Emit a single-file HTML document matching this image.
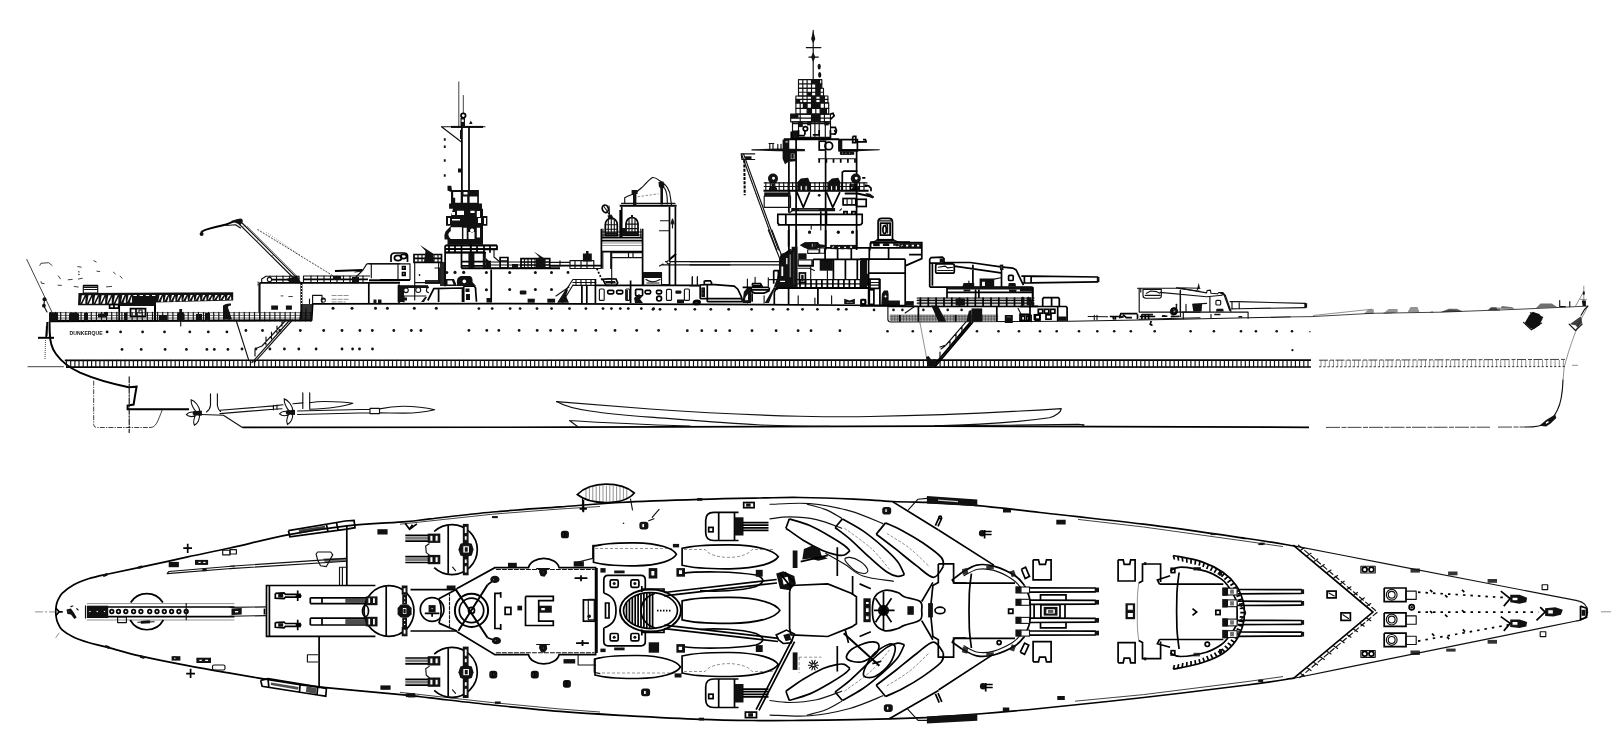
<!DOCTYPE html>
<html><head><meta charset="utf-8"><title>Dunkerque</title>
<style>
html,body{margin:0;padding:0;background:#fff;}
body{width:1624px;height:753px;overflow:hidden;font-family:"Liberation Sans",sans-serif;}
svg{display:block;position:absolute;left:0;top:0}
.l{fill:none;stroke:#111;stroke-width:1.15;stroke-linecap:round;stroke-linejoin:round}
.t{fill:none;stroke:#111;stroke-width:.8}
.h{fill:none;stroke:#222;stroke-width:.5}
.b{fill:none;stroke:#000;stroke-width:1.7}
.B{fill:none;stroke:#000;stroke-width:2}
.f{fill:#111;stroke:none}
.w{fill:#fff;stroke:#111;stroke-width:1.1}
.d{fill:none;stroke:#222;stroke-width:.7;stroke-dasharray:3 2}
</style></head><body>
<svg width="1624" height="753" viewBox="0 0 1624 753">
<rect width="1624" height="753" fill="#fff"/>
<g id="hull">
<path class="B" d="M49.5 321.5 L49.7 332 C49.9 342 52 349 56 354 C61 361 70 368 80 372.7 C90 377 110 383.5 128.6 387.2 L136.6 386.7 L134.8 397 L133.6 404.6 L127.6 405.6 L127.6 409.2 L189 409.2"/>
<path class="b" stroke-width="2" d="M49.5 321.5 L311.7 320 L312.7 303.8 L500 303.6 L700 304.3 L887.9 305.5"/>
<path class="l" d="M887.9 305.5 L887.9 319.5 Q888 321.9 891 321.9 L1070 321.3 L1180 319.3 L1290 316.9"/>
<path class="t" d="M1290 316.9 L1312 316.6 L1372 313.3 L1440 312.2 L1520 309.2 L1587.9 306.1" stroke="#444"/>
<path class="h" d="M1313 315.5 L1372 309.2" stroke="#555"/>
<path class="h" d="M1587.9 306.1 C1584 314 1580 321 1577.7 326.4 C1573 338 1569 350 1566.4 359.2 L1564.2 367.1 L1563 380" stroke="#777"/>
<path class="l" d="M1563 380 C1562.5 395 1561 403 1557.4 410 C1554 417 1551 420.5 1548.4 422.4 C1542 426 1534 427 1525.8 427"/>
<path class="b" d="M242.4 427.4 L577 427.2 L935 426.2 L1309 427.3"/>
<path class="t" d="M1326 427.4 L1490 427.2 M1498 427.1 L1526 427" stroke="#333" stroke-dasharray="14 1.5 5 1"/>
<path class="t" d="M27.6 366.7 L63.8 366.7"/>
<path class="h" d="M1572 365.3 L1578 365.3"/>
<path d="M64.8 360.3 L1311 360.1" class="b" stroke-width="1.7"/>
<path d="M66 367.2 L1311 367" class="b" stroke-width="1.9"/>
<path class="l" stroke-width="1.5" d="M66.5 360.4V367M70.7 360.4V367M74.9 360.4V367M79.0 360.4V367M83.2 360.4V367M87.4 360.4V367M91.6 360.4V367M95.8 360.4V367M99.9 360.4V367M104.1 360.4V367M108.3 360.4V367M112.5 360.4V367M116.7 360.4V367M120.8 360.4V367M125.0 360.4V367M129.2 360.4V367M133.4 360.4V367M137.6 360.4V367M141.7 360.4V367M145.9 360.4V367M150.1 360.4V367M154.3 360.4V367M158.5 360.4V367M162.6 360.4V367M166.8 360.4V367M171.0 360.4V367M175.2 360.4V367M179.4 360.4V367M183.5 360.4V367M187.7 360.4V367M191.9 360.4V367M196.1 360.4V367M200.3 360.4V367M204.4 360.4V367M208.6 360.4V367M212.8 360.4V367M217.0 360.4V367M221.2 360.4V367M225.3 360.4V367M229.5 360.4V367M233.7 360.4V367M237.9 360.4V367M242.1 360.4V367M246.2 360.4V367M250.4 360.4V367M254.6 360.4V367M258.8 360.4V367M263.0 360.4V367M267.1 360.4V367M271.3 360.4V367M275.5 360.4V367M279.7 360.4V367M283.9 360.4V367M288.0 360.4V367M292.2 360.4V367M296.4 360.4V367M300.6 360.4V367M304.8 360.4V367M308.9 360.4V367M313.1 360.4V367M317.3 360.4V367M321.5 360.4V367M325.7 360.4V367M329.8 360.4V367M334.0 360.4V367M338.2 360.4V367M342.4 360.4V367M346.6 360.4V367M350.7 360.4V367M354.9 360.4V367M359.1 360.4V367M363.3 360.4V367M367.5 360.4V367M371.6 360.4V367M375.8 360.4V367M380.0 360.4V367M384.2 360.4V367M388.4 360.4V367M392.5 360.4V367M396.7 360.4V367M400.9 360.4V367M405.1 360.4V367M409.3 360.4V367M413.4 360.4V367M417.6 360.4V367M421.8 360.4V367M426.0 360.4V367M430.2 360.4V367M434.3 360.4V367M438.5 360.4V367M442.7 360.4V367M446.9 360.4V367M451.1 360.4V367M455.2 360.4V367M459.4 360.4V367M463.6 360.4V367M467.8 360.4V367M472.0 360.4V367M476.1 360.4V367M480.3 360.4V367M484.5 360.4V367M488.7 360.4V367M492.9 360.4V367M497.0 360.4V367M501.2 360.4V367M505.4 360.4V367M509.6 360.4V367M513.8 360.4V367M517.9 360.4V367M522.1 360.4V367M526.3 360.4V367M530.5 360.4V367M534.7 360.4V367M538.8 360.4V367M543.0 360.4V367M547.2 360.4V367M551.4 360.4V367M555.6 360.4V367M559.7 360.4V367M563.9 360.4V367M568.1 360.4V367M572.3 360.4V367M576.5 360.4V367M580.6 360.4V367M584.8 360.4V367M589.0 360.4V367M593.2 360.4V367M597.4 360.4V367M601.5 360.4V367M605.7 360.4V367M609.9 360.4V367M614.1 360.4V367M618.3 360.4V367M622.4 360.4V367M626.6 360.4V367M630.8 360.4V367M635.0 360.4V367M639.2 360.4V367M643.3 360.4V367M647.5 360.4V367M651.7 360.4V367M655.9 360.4V367M660.1 360.4V367M664.2 360.4V367M668.4 360.4V367M672.6 360.4V367M676.8 360.4V367M681.0 360.4V367M685.1 360.4V367M689.3 360.4V367M693.5 360.4V367M697.7 360.4V367M701.9 360.4V367M706.0 360.4V367M710.2 360.4V367M714.4 360.4V367M718.6 360.4V367M722.8 360.4V367M726.9 360.4V367M731.1 360.4V367M735.3 360.4V367M739.5 360.4V367M743.7 360.4V367M747.8 360.4V367M752.0 360.4V367M756.2 360.4V367M760.4 360.4V367M764.6 360.4V367M768.7 360.4V367M772.9 360.4V367M777.1 360.4V367M781.3 360.4V367M785.5 360.4V367M789.6 360.4V367M793.8 360.4V367M798.0 360.4V367M802.2 360.4V367M806.4 360.4V367M810.5 360.4V367M814.7 360.4V367M818.9 360.4V367M823.1 360.4V367M827.3 360.4V367M831.4 360.4V367M835.6 360.4V367M839.8 360.4V367M844.0 360.4V367M848.2 360.4V367M852.3 360.4V367M856.5 360.4V367M860.7 360.4V367M864.9 360.4V367M869.1 360.4V367M873.2 360.4V367M877.4 360.4V367M881.6 360.4V367M885.8 360.4V367M890.0 360.4V367M894.1 360.4V367M898.3 360.4V367M902.5 360.4V367M906.7 360.4V367M910.9 360.4V367M915.0 360.4V367M919.2 360.4V367M923.4 360.4V367M927.6 360.4V367M931.8 360.4V367M935.9 360.4V367M940.1 360.4V367M944.3 360.4V367M948.5 360.4V367M952.7 360.4V367M956.8 360.4V367M961.0 360.4V367M965.2 360.4V367M969.4 360.4V367M973.6 360.4V367M977.7 360.4V367M981.9 360.4V367M986.1 360.4V367M990.3 360.4V367M994.5 360.4V367M998.6 360.4V367M1002.8 360.4V367M1007.0 360.4V367M1011.2 360.4V367M1015.4 360.4V367M1019.5 360.4V367M1023.7 360.4V367M1027.9 360.4V367M1032.1 360.4V367M1036.3 360.4V367M1040.4 360.4V367M1044.6 360.4V367M1048.8 360.4V367M1053.0 360.4V367M1057.2 360.4V367M1061.3 360.4V367M1065.5 360.4V367M1069.7 360.4V367M1073.9 360.4V367M1078.1 360.4V367M1082.2 360.4V367M1086.4 360.4V367M1090.6 360.4V367M1094.8 360.4V367M1099.0 360.4V367M1103.1 360.4V367M1107.3 360.4V367M1111.5 360.4V367M1115.7 360.4V367M1119.9 360.4V367M1124.0 360.4V367M1128.2 360.4V367M1132.4 360.4V367M1136.6 360.4V367M1140.8 360.4V367M1144.9 360.4V367M1149.1 360.4V367M1153.3 360.4V367M1157.5 360.4V367M1161.7 360.4V367M1165.8 360.4V367M1170.0 360.4V367M1174.2 360.4V367M1178.4 360.4V367M1182.6 360.4V367M1186.7 360.4V367M1190.9 360.4V367M1195.1 360.4V367M1199.3 360.4V367M1203.5 360.4V367M1207.6 360.4V367M1211.8 360.4V367M1216.0 360.4V367M1220.2 360.4V367M1224.4 360.4V367M1228.5 360.4V367M1232.7 360.4V367M1236.9 360.4V367M1241.1 360.4V367M1245.3 360.4V367M1249.4 360.4V367M1253.6 360.4V367M1257.8 360.4V367M1262.0 360.4V367M1266.2 360.4V367M1270.3 360.4V367M1274.5 360.4V367M1278.7 360.4V367M1282.9 360.4V367M1287.1 360.4V367M1291.2 360.4V367M1295.4 360.4V367M1299.6 360.4V367M1303.8 360.4V367M1308.0 360.4V367"/>
<path d="M1319 360.2 L1566.4 359.4" class="t" stroke="#555" stroke-dasharray="9 2 4 1.5"/>
<path d="M1319 366.8 L1565 366.6" class="t" stroke="#444" stroke-dasharray="2.2 2"/>
<path class="h" stroke="#555" stroke-width=".8" d="M1321.0 360V367M1325.2 360V367M1329.4 360V367M1333.5 360V367M1337.7 360V367M1341.9 360V367M1346.1 360V367M1350.3 360V367M1354.4 360V367M1358.6 360V367M1362.8 360V367M1367.0 360V367M1371.2 360V367M1375.3 360V367M1379.5 360V367M1383.7 360V367M1387.9 360V367M1392.1 360V367M1396.2 360V367M1400.4 360V367M1404.6 360V367M1408.8 360V367M1413.0 360V367M1417.1 360V367M1421.3 360V367M1425.5 360V367M1429.7 360V367M1433.9 360V367M1438.0 360V367M1442.2 360V367M1446.4 360V367M1450.6 360V367M1454.8 360V367M1458.9 360V367M1463.1 360V367M1467.3 360V367M1471.5 360V367M1475.7 360V367M1479.8 360V367M1484.0 360V367M1488.2 360V367M1492.4 360V367M1496.6 360V367M1500.7 360V367M1504.9 360V367M1509.1 360V367M1513.3 360V367M1517.5 360V367M1521.6 360V367M1525.8 360V367M1530.0 360V367M1534.2 360V367M1538.4 360V367M1542.5 360V367M1546.7 360V367M1550.9 360V367M1555.1 360V367M1559.3 360V367M1563.4 360V367"/>
<g class="f">
<circle cx="107.1" cy="331.9" r="1.4"/><circle cx="120.6" cy="331.9" r="1.4"/><circle cx="142.6" cy="331.9" r="1.4"/><circle cx="164.5" cy="331.9" r="1.4"/><circle cx="189.8" cy="331.9" r="1.4"/><circle cx="208.3" cy="331.9" r="1.4"/><circle cx="226.9" cy="331.9" r="1.4"/>
<circle cx="122.0" cy="349.4" r="1.4"/><circle cx="141.2" cy="349.4" r="1.4"/><circle cx="165.1" cy="349.4" r="1.4"/><circle cx="186.4" cy="349.4" r="1.4"/><circle cx="206.9" cy="349.4" r="1.4"/><circle cx="214.3" cy="349.4" r="1.4"/><circle cx="227.9" cy="349.4" r="1.4"/>
<circle cx="333.0" cy="308.3" r="1.5"/><circle cx="352.0" cy="308.3" r="1.5"/><circle cx="375.5" cy="308.3" r="1.5"/><circle cx="387.4" cy="308.3" r="1.5"/><circle cx="414.3" cy="308.3" r="1.5"/><circle cx="436.3" cy="308.3" r="1.5"/>
<circle cx="245.9" cy="330.5" r="1.4"/><circle cx="262.5" cy="330.5" r="1.4"/><circle cx="279.8" cy="330.5" r="1.4"/><circle cx="300.3" cy="330.5" r="1.4"/><circle cx="323.7" cy="330.5" r="1.4"/><circle cx="342.0" cy="330.5" r="1.4"/><circle cx="359.9" cy="330.5" r="1.4"/><circle cx="372.3" cy="330.5" r="1.4"/><circle cx="393.8" cy="330.5" r="1.4"/><circle cx="411.3" cy="330.5" r="1.4"/><circle cx="420.9" cy="330.5" r="1.4"/>
<circle cx="242.0" cy="349.0" r="1.4"/><circle cx="255.9" cy="349.0" r="1.4"/><circle cx="269.9" cy="349.0" r="1.4"/><circle cx="284.4" cy="349.0" r="1.4"/><circle cx="298.8" cy="349.0" r="1.4"/><circle cx="316.1" cy="349.0" r="1.4"/><circle cx="342.0" cy="349.0" r="1.4"/><circle cx="352.6" cy="349.0" r="1.4"/><circle cx="359.5" cy="349.0" r="1.4"/><circle cx="372.5" cy="349.0" r="1.4"/>
<circle cx="478.9" cy="308.6" r="1.4"/><circle cx="492.2" cy="308.6" r="1.4"/><circle cx="510.1" cy="308.6" r="1.4"/><circle cx="520.1" cy="308.6" r="1.4"/><circle cx="537.0" cy="308.6" r="1.4"/><circle cx="551.6" cy="308.6" r="1.4"/><circle cx="569.5" cy="308.6" r="1.4"/><circle cx="585.9" cy="308.6" r="1.4"/><circle cx="603.0" cy="308.6" r="1.4"/><circle cx="611.4" cy="308.6" r="1.4"/><circle cx="620.3" cy="308.6" r="1.4"/><circle cx="628.3" cy="308.6" r="1.4"/><circle cx="641.3" cy="308.6" r="1.4"/><circle cx="653.6" cy="308.6" r="1.4"/>
<circle cx="468.9" cy="330.4" r="1.4"/><circle cx="486.8" cy="330.4" r="1.4"/><circle cx="498.8" cy="330.4" r="1.4"/><circle cx="519.1" cy="330.4" r="1.4"/><circle cx="537.2" cy="330.4" r="1.4"/><circle cx="550.6" cy="330.4" r="1.4"/><circle cx="562.6" cy="330.4" r="1.4"/><circle cx="575.5" cy="330.4" r="1.4"/><circle cx="595.8" cy="330.4" r="1.4"/><circle cx="615.0" cy="330.4" r="1.4"/><circle cx="636.7" cy="330.4" r="1.4"/><circle cx="658.6" cy="330.4" r="1.4"/>
<circle cx="653.0" cy="309.3" r="1.4"/><circle cx="660.0" cy="309.3" r="1.4"/><circle cx="675.5" cy="309.3" r="1.4"/><circle cx="694.8" cy="309.3" r="1.4"/><circle cx="710.8" cy="309.3" r="1.4"/><circle cx="728.7" cy="309.3" r="1.4"/><circle cx="751.6" cy="309.3" r="1.4"/><circle cx="773.0" cy="309.3" r="1.4"/><circle cx="787.9" cy="309.3" r="1.4"/><circle cx="802.5" cy="309.3" r="1.4"/><circle cx="817.4" cy="309.3" r="1.4"/><circle cx="838.3" cy="309.3" r="1.4"/><circle cx="846.3" cy="309.3" r="1.4"/>
<circle cx="687.3" cy="330.7" r="1.4"/><circle cx="701.8" cy="330.7" r="1.4"/><circle cx="715.8" cy="330.7" r="1.4"/><circle cx="729.7" cy="330.7" r="1.4"/><circle cx="752.0" cy="330.7" r="1.4"/><circle cx="776.1" cy="330.7" r="1.4"/><circle cx="798.1" cy="330.7" r="1.4"/><circle cx="811.0" cy="330.7" r="1.4"/><circle cx="839.9" cy="330.7" r="1.4"/>
<circle cx="874.0" cy="309.9" r="1.3"/><circle cx="893.5" cy="309.9" r="1.3"/><circle cx="902.4" cy="309.9" r="1.3"/><circle cx="923.4" cy="309.9" r="1.3"/><circle cx="947.7" cy="309.9" r="1.3"/><circle cx="961.6" cy="309.9" r="1.3"/>
<circle cx="887.5" cy="331.3" r="1.3"/><circle cx="912.8" cy="331.3" r="1.3"/><circle cx="930.7" cy="331.3" r="1.3"/><circle cx="977.0" cy="331.3" r="1.3"/><circle cx="998.5" cy="331.3" r="1.3"/><circle cx="1019.0" cy="331.3" r="1.3"/><circle cx="1040.0" cy="331.3" r="1.3"/><circle cx="1056.7" cy="331.3" r="1.3"/><circle cx="1079.0" cy="331.3" r="1.3"/><circle cx="1097.3" cy="331.3" r="1.3"/><circle cx="1114.2" cy="331.3" r="1.3"/><circle cx="1130.8" cy="331.3" r="1.3"/><circle cx="1154.7" cy="331.3" r="1.3"/><circle cx="1190.6" cy="331.3" r="1.3"/><circle cx="1213.9" cy="331.3" r="1.3"/><circle cx="1241.0" cy="331.3" r="1.3"/><circle cx="1255.9" cy="331.3" r="1.3"/><circle cx="1276.7" cy="331.3" r="1.3"/><circle cx="1292.0" cy="331.3" r="1.3"/>
<circle cx="1309.9" cy="331.8" r="0.7"/>
<circle cx="1292.4" cy="350.2" r="1.1"/>
</g>
<path class="t" stroke-dasharray="5 1.2 1.2 1.2" d="M93.7 380.7 V424.5 Q93.7 427.5 97 427.5 H150"/>
<path class="t" d="M150 427.5 C156 427.5 157.5 422 162.5 409.2"/>
<path class="l" stroke-dasharray="6 1.5 1.5 1.5" d="M129.2 376.7 V432.5"/>
<path class="l" d="M556.6 401.6 L650 409 C700 412.5 749.6 415.1 800 416.2 C830 416.9 850 417 870 416.5 C930 415.5 1000 412.5 1061.3 408.6 C1061 412 1056 416 1049.3 417.8 C1020 422 970 425 935.7 425.8"/>
<path class="l" d="M556.6 401.6 C565 406.5 575 409 590 411 C610 414 635 416 650 417.1 C700 421 730 423.5 757.6 424.8 C780 425.8 800 426.3 830 426.4"/>
<path class="l" d="M569.5 420.5 L577.5 426.5 M569.5 420.5 C600 422.5 640 424.5 690 426"/>
<path class="l" d="M935 425.6 L1010 425.2 L1078 424.4 L1084 424.8 L1082 426.6"/>
<path class="l" d="M210.5 393.8 V405.5 Q210 409.5 206.5 412 M217.4 393.8 V405.5 Q217.8 409 220.5 411.5 M302.8 392.9 V408.4 M309.7 392.9 V408.4"/>
<path class="l" d="M201 414.5 L223.4 415.3 L242.4 427.4"/>
<path class="l" d="M220 410.2 L273.4 405.9 M220 413.6 L273.4 409.3 M273.4 405.4 V409.8 M277 405 V409.5"/>
<path class="l" d="M273.4 405.9 L283 404.8 M273.4 409.3 L282 408.8 M309.7 402.8 C318 401.4 322 401.4 325.2 401.5 C336 401.6 346 402.2 352.8 403.3 C345 406 330 408.6 309.7 409.3 M293 403.8 L302.8 402.9"/>
<path class="l" d="M297.6 411 L370 409.3 M297.6 414.5 L370 412.8 M370 408.4 V413.6 H379.5 V408.4 Z"/>
<path class="l" d="M379.5 408.9 C388 407 396 406.2 402.8 406.2 C415 406.3 427 407.8 434.7 409.7 C426 411.8 414 413.2 402.8 413.1 C394 413.1 386 412.9 379.5 412.9"/>
<g transform="translate(195.9 413.2)"><path class="w" stroke-width="1.3" d="M0.5 -1 C-2 -4 -5 -9 -4.8 -13.5 C-1 -12.5 3.5 -7 4 -1.5 Z M-0.5 -1 C-4 -1.5 -8 -0.5 -9.5 1.5 C-7 4 -2 4 0.5 1.5 Z M0 1 C-2 5 -3 9 -1.5 12 C1.5 10.5 4.5 6 3.5 0.5 Z"/><ellipse class="f" cx="0" cy="0" rx="3.2" ry="2.4"/><path class="f" d="M2 -2.5 h4 v5 h-4z"/></g>
<g transform="translate(289.0 412.4)"><path class="w" stroke-width="1.3" d="M0.5 -1 C-2 -4 -5 -9 -4.8 -13.5 C-1 -12.5 3.5 -7 4 -1.5 Z M-0.5 -1 C-4 -1.5 -8 -0.5 -9.5 1.5 C-7 4 -2 4 0.5 1.5 Z M0 1 C-2 5 -3 9 -1.5 12 C1.5 10.5 4.5 6 3.5 0.5 Z"/><ellipse class="f" cx="0" cy="0" rx="3.2" ry="2.4"/><path class="f" d="M2 -2.5 h4 v5 h-4z"/></g>
<defs><filter id="gs" x="-5%" y="-20%" width="110%" height="140%"><feColorMatrix type="saturate" values="0"/></filter></defs>
<text filter="url(#gs)" x="69.6" y="334.6" font-family="Liberation Sans, sans-serif" font-size="5" font-weight="bold" textLength="33" lengthAdjust="spacingAndGlyphs" fill="#111" opacity=".99">DUNKERQUE</text>
</g>
<g id="stern">
<path class="t" d="M26.6 259.1 L52.3 312.9"/>
<circle class="f" cx="44.5" cy="299.2" r="2"/><circle class="f" cx="43.9" cy="305.7" r="1.9"/>
<path class="l" d="M44.5 299 L43.9 306 L47 312"/>
<path class="B" d="M38 337.8 H54"/><path class="b" d="M46.8 326 L46.2 338" /><path class="t" stroke-dasharray="1 1" d="M45.5 340 L45 360"/>
<path class="b" d="M47.2 322 L46.6 336"/>
<path class="t" d="M39.7 265.7 L40.9 263.3 L48.7 262.7 L52.3 265.7M77.4 266.5 L81.6 267.2M78.0 271.7 L79.8 272.0M78.0 274.1 L79.8 274.7M93.5 260.6 L96.5 262.1M96.5 271.1 L100.1 271.6M113.2 272.0 L115.6 274.1M119.8 275.9 L122.5 278.5M58.2 275.6 L60.6 279.2M67.8 279.8 L72.6 279.4M78.0 279.1 L82.7 278.2M40.9 281.2 L41.5 283.3 L44.5 283.6M57.6 285.2 L61.8 285.4M73.8 286.4 L78.6 287.1M106.1 286.9 L112.0 286.4"/>
<path class="f" d="M78.5 293 L233.2 292.2 L233.2 300.4 L156 302.6 L156 306 L119 306 L119 305.2 L78 305.2 Z"/>
<path fill="#fff" d="M80.5 303.8 L84.7 295.2 L81.9 295.2 ZM82.3 303.8 L85.3 303.8 L85.5 297 ZM87.1 303.8 L91.3 295.2 L88.5 295.2 ZM88.9 303.8 L91.9 303.8 L92.1 297 ZM93.7 303.8 L97.9 295.2 L95.1 295.2 ZM95.5 303.8 L98.5 303.8 L98.7 297 ZM100.3 303.8 L104.5 295.2 L101.7 295.2 ZM102.1 303.8 L105.1 303.8 L105.3 297 ZM106.9 303.8 L111.1 295.2 L108.3 295.2 ZM108.7 303.8 L111.7 303.8 L111.9 297 ZM113.5 303.8 L117.7 295.2 L114.9 295.2 ZM115.3 303.8 L118.3 303.8 L118.5 297 ZM121.0 302.7 L122.3 295 L124.6 295 ZM123.6 302.7 L125.9 302.7 L125.6 296 ZM127.2 302.6 L128.5 295 L130.8 295 ZM129.8 302.6 L132.1 302.6 L131.8 296 ZM133.4 295 h3.4 v1 h-3.4ZM139.6 295 h3.4 v1 h-3.4ZM145.8 295 h3.4 v1 h-3.4ZM152.0 295 h3.4 v1 h-3.4ZM158.2 301.7 L159.5 295 L161.8 295 ZM160.8 301.7 L163.1 301.7 L162.8 296 ZM164.4 301.5 L165.7 295 L168.0 295 ZM167.0 301.5 L169.3 301.5 L169.0 296 ZM170.6 301.4 L171.9 295 L174.2 295 ZM173.2 301.4 L175.5 301.4 L175.2 296 ZM176.8 301.2 L178.1 295 L180.4 295 ZM179.4 301.2 L181.7 301.2 L181.4 296 ZM183.0 301.0 L184.3 295 L186.6 295 ZM185.6 301.0 L187.9 301.0 L187.6 296 ZM189.2 300.8 L190.5 295 L192.8 295 ZM191.8 300.8 L194.1 300.8 L193.8 296 ZM195.4 300.7 L196.7 295 L199.0 295 ZM198.0 300.7 L200.3 300.7 L200.0 296 ZM201.6 300.5 L202.9 295 L205.2 295 ZM204.2 300.5 L206.5 300.5 L206.2 296 ZM207.8 300.3 L209.1 295 L211.4 295 ZM210.4 300.3 L212.7 300.3 L212.4 296 ZM214.0 300.1 L215.3 295 L217.6 295 ZM216.6 300.1 L218.9 300.1 L218.6 296 ZM220.2 300.0 L221.5 295 L223.8 295 ZM222.8 300.0 L225.1 300.0 L224.8 296 ZM226.4 299.8 L227.7 295 L230.0 295 ZM229.0 299.8 L231.3 299.8 L231.0 296 Z"/>
<path class="l" d="M83.3 285.6 H97.7 V293 H83.3Z M83.3 287.5 H97.7 M84.5 289.5H97"/>
<path class="b" d="M83.3 285.6 H97.7"/>
<path class="b" d="M109.6 304.5 H118.6 V308.1 H109.6Z M114 304.5V308"/>
<path class="B" d="M155 305 V321"/>
<path class="b" d="M119.2 306 V321 M130.5 308.7 H145.5 V316.5 H130.5Z M136 308.7V316"/>
<path class="l" d="M139 310h3v3h-3z"/>
<path d="M49.5 312.7 H312 M49.5 315.4 H312 M49.5 318 H312" fill="none" stroke="#222" stroke-width=".7"/>
<path class="b" stroke-width="1.8" d="M49.5 320.6 H312"/>
<path class="l" stroke-width=".9" d="M50.5 312.3V321M55.6 312.3V321M60.7 312.3V321M65.8 312.3V321M70.9 312.3V321M76.0 312.3V321M81.1 312.3V321M86.2 312.3V321M91.3 312.3V321M96.4 312.3V321M101.5 312.3V321M106.6 312.3V321M111.7 312.3V321M116.8 312.3V321M121.9 312.3V321M127.0 312.3V321M132.1 312.3V321M137.2 312.3V321M142.3 312.3V321M147.4 312.3V321M152.5 312.3V321M157.6 312.3V321M162.7 312.3V321M167.8 312.3V321M172.9 312.3V321M178.0 312.3V321M183.1 312.3V321M188.2 312.3V321M193.3 312.3V321M198.4 312.3V321M203.5 312.3V321M208.6 312.3V321M213.7 312.3V321M218.8 312.3V321M223.9 312.3V321M229.0 312.3V321M234.1 312.3V321M239.2 312.3V321M244.3 312.3V321M249.4 312.3V321M254.5 312.3V321M259.6 312.3V321M264.7 312.3V321M269.8 312.3V321M274.9 312.3V321M280.0 312.3V321M285.1 312.3V321M290.2 312.3V321M295.3 312.3V321M300.4 312.3V321M305.5 312.3V321M310.6 312.3V321"/>
<path class="f" d="M49 312.5 h9 v8.5 h-9z M69 313.5 q5 -2 10 0 v7 h-10z M84 313 h4 v8 h-4z M98 313.5 h8 v4 h-8z M104 312 h4v4h-4z M124 312.5h3v8h-3z M159 315 h8 v6h-8z M196 314h6v7h-6z M205 313h5v8h-5z"/>
<path class="f" d="M179.3 309 h2.8 v3 l2.5 2 v7 h-7.5 v-7 l2.2 -2z"/><path class="l" d="M180.7 321V326"/>
<path class="f" d="M223 305.5 q3 -2.5 8 -2 v2 q-3 0 -3 2 l4 12 h-9z"/>
<circle class="f" cx="201.6" cy="234" r="2"/>
<path class="B" stroke-width="2.4" d="M201.2 232.5 C203 229 215 227.5 226 224.5 C232 222.5 234 220.5 240 219.9"/>
<path class="f" d="M231 221 L240 218.6 Q243.5 219 242.6 222 L240.5 225 L236 223 Z"/>
<path class="l" d="M238.6 223.5 L294.5 279 M241.6 222.5 L298 279 M226 225.5 L235.5 224.8 L240.5 228"/>
<path class="h" d="M247 226 L300 279 M243.5 226.5 l2 -1.2 M257 240.5 l2.2 -1.6 M271 256.5 l2.8 -1.8"/>
<path class="t" stroke-dasharray="2 1.2" d="M257.4 229.4 L333.4 276"/>
<path class="h" stroke-dasharray="1 1.5" d="M266 232 L300 255"/>
<path class="b" d="M260 282.8 H400"/>
<path class="l" d="M260 283 V319.5 M259 283V312" />
<path class="h" d="M257.5 282.5 h3 M257.5 284.5h3 M258 281 v5"/>
<path class="l" d="M261.7 282.6 V279 L266 276.2 H299 M303.5 276 H369.6 M303.5 276 V282.6 M299 276V282.6"/>
<path class="b" d="M268 279.6 H298 M304 279.3 H368" stroke-width="1.8"/>
<path class="l" d="M270.0 276V282.6M276.5 276V282.6M283.0 276V282.6M289.5 276V282.6M296.0 276V282.6M311.0 276V282.6M317.5 276V282.6M324.0 276V282.6M330.5 276V282.6M337.0 276V282.6M343.5 276V282.6M350.0 276V282.6M356.5 276V282.6M363.0 276V282.6"/>
<circle class="w" cx="269.5" cy="279.6" r="2.2"/>
<path class="f" d="M286 279 L297 276 L301 282.6 L290 282.6Z M333 276 h8 v4 h-8z M352 277 h7 v5 h-7z"/>
<path class="B" stroke-width="3" d="M301.4 283 V319"/>
<path fill="#fff" d="M300.8 285h1.2v1h-1.2z M300.8 288h1.2v1h-1.2z M300.8 291h1.2v1h-1.2zM300.8 294h1.2v1h-1.2zM300.8 297h1.2v1h-1.2zM300.8 300h1.2v1h-1.2zM300.8 303h1.2v1h-1.2z"/>
<path class="f" d="M271.2 305.4 h6.8 v4.3 h-6.8z M285.9 305.4 h6 v4.3 h-6z"/>
<path class="t" d="M280.7 295.9 h2.6 M288.4 296.5 h4.4"/>
<path class="l" d="M312.6 303.6 V295.3 H322 V303.6 M309.5 303.6 V299 M306 319 V308"/>
<circle class="f" cx="323.3" cy="300" r="2.6"/><circle fill="#fff" cx="323.6" cy="300.6" r="1.2"/>
<path class="h" d="M331.6 295.5 H348.9 M331.6 299.3 H348.9 M331.6 301.9 H345.5" stroke-dasharray="5 1"/>
<path class="f" d="M302 304 L312 304 L312 320 L299 320 Z" opacity=".85"/>
<path class="b" d="M368.8 282.6 V303.6 M399 284.5 V303.6" stroke-width="1.8"/>
<path class="f" d="M373.5 299.5 h3 v4 h-3z M378 299.5 h3.5 v4 h-3.5z"/>
<path class="l" d="M362.7 270.5 L366.3 264.6 Q367 263.6 368.5 263.6 H400 M371.3 263.6 V277.7"/>
<path class="B" stroke-width="2.6" d="M369 280.3 H400"/>
<path class="B" d="M335 270.9 L362.7 270"/>
<path class="l" d="M355 272 L362 271 L356 277"/>
<path class="l" d="M289.8 320 L251.9 362.7 M292.5 320 L254.3 362.7 M236 320 L248.9 360.7 M248.9 360.7 H256"/>
<path class="l" d="M286 320 L262 346 M282 320 V326 M266 337 v8 M271.5 332 v7 M277 326 v7 M262 346 l-5 2 M255 350 v6" />
</g>
<g id="aft">
<path class="l" d="M369 263.8 H398 M398 263.8 H410 V279.6 H398Z"/>
<path class="b" d="M402.5 266.5h2.6v2.6h-2.6z M402.5 272.5h2.6v2.8h-2.6z" stroke-width="1.2"/>
<path class="B" stroke-width="2.2" d="M380 280 H410"/>
<path class="b" d="M391 262 V256.5 Q391 253 395 253 H404 Q407.5 253 407.5 256 V262"/>
<ellipse class="b" cx="398" cy="258" rx="3.6" ry="2.6"/><ellipse class="b" cx="403.5" cy="256.5" rx="3" ry="2.2"/>
<path class="b" d="M414 254.5 H441.5 V262.3 H414Z M414 258.4H441.5"/>
<path class="l" d="M418 254.5V262 M422 254.5V262 M434 254.5V262 M438 254.5V262"/>
<path class="f" d="M420 245 L433 253.5 L434 262 L424 262 L425.5 251Z"/>
<path class="l" d="M414.7 262.3 V300 M438.6 262.3 V282.6 M435 268 H439.8 V282.6 M414.7 282.6 H440"/>
<circle class="f" cx="419.5" cy="275" r=".9"/>
<path class="f" d="M440 262 h5 v24 h-5z M425 280 h15 v4 h-15z" opacity=".9"/>
<path class="b" d="M398.5 302 V286 H428"/>
<path class="f" d="M398.5 286 h5.5 v16 h-5.5z M398.5 286 h30 v2 h-30z"/>
<circle class="w" cx="406" cy="290.3" r="2.3"/><circle class="w" cx="418.2" cy="290" r="2.5"/><path class="w" d="M429 287.5 a2.6 2.6 0 0 0 0 5.2"/>
<path class="l" d="M404 296 H426 M404 296 V302"/><path class="f" d="M404 297.5h3v3h-3z M421 302 l4 -5 h2 l-3 5z"/>
<path class="b" d="M427.8 300.5 L433.8 288.6 L462.5 288 V302 M438.6 288.4 V302"/>
<path class="b" d="M463.7 286.2 H474 Q476 287 475.6 290 L476.5 301.7 M463.7 286.2 V302"/>
<path class="f" d="M465.5 288.5h4v3.5h-4z M466 294 h4 v6h-4z"/>
<path class="b" d="M445.1 245.5 V286.2 M445.1 245.5 H497 M491.2 269.4 V302.3" stroke-width="1.8"/>
<path class="f" d="M486.5 298 h5 v4.5h-5z"/>
<path class="B" stroke-width="2.6" d="M461.3 268.2 H560"/>
<path class="B" stroke-width="2.6" d="M470.8 190 V268"/>
<path class="b" d="M484 245 V268 M445.1 249.1 H497 V245.5 M445.1 252.7 H486 M461.5 261.7 H491 M461.5 265.9 H491 M461.5 253 V268 M449 245.5V252.7 M455 245.5V252.7 M461.5 245.5V252.7 M477 245.5V252.7 M490 245.5V252.7"/>
<path class="f" d="M468.4 253 h6 v15 h-6z M482.8 253 h3 v15h-3z M486 258 l5 5 v5 h-5z"/>
<g class="f"><circle cx="446.8" cy="272.4" r="1.5"/><circle cx="455" cy="272.4" r="1.6"/><circle cx="463.7" cy="272.4" r="1.6"/><circle cx="486.4" cy="272.6" r="1.5"/><circle cx="486.4" cy="289.8" r="1.5"/>
<circle cx="509.7" cy="272.4" r="1.5"/><circle cx="535.4" cy="272.4" r="1.5"/><circle cx="551.5" cy="272.4" r="1.5"/><circle cx="509.7" cy="289.4" r="1.5"/><circle cx="535.4" cy="289.4" r="1.5"/><circle cx="551.5" cy="289.4" r="1.5"/>
<rect x="519.8" y="290.4" width="6.6" height="4.2" rx="1"/><rect x="527.6" y="298.7" width="7.2" height="4"/><rect x="547.3" y="298.7" width="7.8" height="4"/></g>
<path class="f" d="M457 284 Q456 277 461 276 H470 Q473 277 472.5 282 L476 286 H457Z M446 279 h8 l3 7 h-11z"/><circle fill="#fff" cx="464.3" cy="281.4" r="1.8"/>
<path fill="#fff" d="M447.5 280.5h4.5l1.5 4h-6z"/>
<path class="l" d="M497 245.5 V249.7 H485"/>
<path class="l" d="M494 249.7 V257 L500 262"/>
<path class="b" d="M500.1 257.5 H507.9 V268 H500.1Z M500.1 261 H507.9"/>
<path class="l" d="M491 262 H521 M491 265H521"/>
<path class="f" d="M512 264 h6 v4h-6z"/>
<path class="b" d="M521 258.7 H549.7 V268 H521Z M521 262 H549.7 M521 265H549.7"/>
<path class="l" d="M524.5 258.7V268 M528 258.7V268 M531.5 258.7V268 M535 258.7V268 M545 258.7V268"/>
<path class="f" d="M533.8 251.6 L545 258.7 V268 H536 V258.7 L539.5 257.2 Z"/>
<path class="l" d="M549.7 266 H560"/>
<path class="t" d="M458.8 81.5 V126.2 M463.3 95.1 V113"/>
<circle class="b" cx="463.3" cy="115.6" r="2.3" stroke-width="1.2"/>
<path class="B" stroke-width="2.6" d="M451 126.9 H483"/><path class="l" d="M441.5 126.7 H485 M441.5 126.7 L461.1 141.8"/>
<path class="f" d="M460.5 118 h4.5 v9 h-4.5z M469 124 l1.8 -3.5 l1.8 3.5z"/><path fill="#fff" d="M461.6 119.5h2.2v2.4h-2.2z"/>
<path class="b" stroke-width="1.7" d="M461.9 127 V190.8 M469 127 V190.8"/>
<path class="f" d="M443.8 138.2h1.9v2.6h-1.9z M443.8 145.4h1.9v2.6h-1.9z M443.8 159.2h1.9v2.6h-1.9z M443.8 174.2h1.9v2.6h-1.9z M458 168.5h3.6v4h-3.6z M460 130 h2v9h-2z"/>
<path class="f" d="M447.5 185.8 h3.8 l.6 4.2 H478.9 V203.4 H482 V208.7 H483 V216.1 H487.4 V225.7 H483 V239.5 H483 V244.8 H447.5 V239.5 H444.6 Q443.6 235 445.5 231.5 L451 225.7 H446 V216.1 H451 L453 208.7 H449.1 V203.4 H451 V192 L447.5 190.6Z"/>
<path fill="#fff" d="M453.2 192h7.5v10.8h-5.5v-5h-2z M463 196.5h4.2v6.3h-4.2z M469.6 196.5h7.6v6.3h-7.6z M463.5 192h4v2.5h-4z M457 210.8h7v4.2h-7z M470.4 210.8h4.2v2.1h-4.2z M476.8 211h3.2v6h-3.2z M452 212h3v3h-3z M448 218h2v6h-2z M452 219 h8 v1.5h-8z M478 218h3v5h-3z M484 218h2v6h-2z M450.8 227.3 h11.1 v11.7 h-11.1 q-5 -5 0 -8z M463.4 227.8h3.3v11.2h-3.3z M468.5 232 h6 v7h-6z M476.8 227.8h3.2v9.7h-3.2z M472 228.5 a2 2 0 1 0 .1 0z"/>
<path class="b" d="M446 245.4 H497 M446 249 H497 M446 252.3 H485"/>
</g>
<g id="mid">
<path class="b" d="M621.7 206.8 V237.7 M620.2 210 V237.7 M675.4 206.8 V285.4 M669.5 206.8 V285.4"/>
<path class="B" stroke-width="2.2" d="M619.7 205.8 H676.6"/><path class="l" d="M621.5 203.3 H675"/>
<path class="l" d="M624.7 203 V197.8 C628 196 631 195 633.6 193.9 C637 192 640 189 643.6 185.9 C647 182 650 179 652.5 177.5 C655 177.3 657 178.6 658.5 179.9 C663 182.5 666 185 667.5 187.9 C669.5 191 670.3 194 670.5 197.8 L671.5 204.8"/>
<path class="f" d="M631.6 189.9 h6 v4 h-1.2 v11 h-3.4 v-11 h-1.4z M658.5 181.9 l5 -.5 l1 6 l-1.5 1 v16 h-2.6 v-16 l-1.5 -2z"/>
<path class="h" stroke-dasharray="2.5 1.5" d="M637.6 196.8 L658.5 193.8"/>
<path class="l" d="M664.5 188 C667 192 667.5 197 667.3 204"/>
<path class="l" d="M660.5 220.7 H669.5 M659.5 230.7 H669.5 M672.5 219 V228 M671 224 L672.5 219 L674 224"/>
<path class="b" d="M601.4 228.7 V268.5 M642.6 228.7 V285.4 M601.4 237.7 H642.6 M601.4 240.6 H642.6 M601.4 251.6 H642.6"/>
<path class="l" d="M601.4 232 H642.6 M601.4 235 H642.6 M603 229V237.7 M640.8 229 V237.7"/>
<path class="h" d="M602 243 H642 M602 245.5 H642" stroke="#555"/>
<path class="l" d="M602.8 251.6 V268.5 M610.7 251.6 V268.5 M611.7 252.6 V284 M611.7 252.6 H642.6 M611.7 257.6 H642.6 M628.5 252.6V257.6 M633 252.6V257.6"/>
<path class="b" d="M605.3 235.7 V224.7 A6 6.6 0 0 1 617.3 224.7 V235.7 Z"/><path class="l" d="M611.3 218.1 V235.7 M608.3 219.2 V235.7 M614.3 219.2 V235.7 M605.3 224.7 H617.3 M605.3 229.2 H617.3"/><path class="f" d="M610.3 215.7 h2 v2.5h-2z M605.3 232.2 h12 v2.4 h-12z"/>
<path class="b" d="M626.0 235.1 V224.1 A6 6.6 0 0 1 638.0 224.1 V235.1 Z"/><path class="l" d="M632.0 217.5 V235.1 M629.0 218.6 V235.1 M635.0 218.6 V235.1 M626.0 224.1 H638.0 M626.0 228.6 H638.0"/><path class="f" d="M631.0 215.1 h2 v2.5h-2z M626.0 231.6 h12 v2.4 h-12z"/>
<path class="f" d="M622 228 h4 v8h-4z"/>
<ellipse class="b" cx="605.3" cy="208.8" rx="3" ry="3.8" transform="rotate(-20 605.3 208.8)"/><path class="l" d="M603.5 206 L607.5 211.5 M607.5 212 L610.5 216.5 L612.5 219 M609 206 L609.5 214"/><path class="f" d="M607.5 215.5 l4 -1 l2 4 l-5 0z"/>
<path class="l" d="M665.5 261.6 H730 M662 264.8 H730 M659.5 266 l3.5 -2"/>
<circle class="w" cx="668.5" cy="262.3" r="1.6"/><path class="B" d="M669.5 259.5 L676 254"/>
<path class="b" d="M550 265.7 H601.8"/>
<path class="l" d="M550 262.4 H570 M560 260.8 V265.5 M570 260.6 H593.8 V268.5 M570 260.6 V268.5 M575 260.6V268 M581 260.6V268 M587 260.6V268 M570 268.5 H601"/>
<path class="f" d="M582.9 253.5 h8.9 v8 h-8.9z M586 251 h2.5v3h-2.5z"/>
<circle class="f" cx="568" cy="272.5" r="1.4"/>
<path class="b" stroke-dasharray="2 1.6" d="M596.8 268.5 L602.8 281.5"/>
<path class="b" d="M595.8 285.4 H699.3"/>
<path class="l" d="M558 302.4 L572.9 279.5 H595.8 M572.9 282.5 H595.8 M572.9 285.4 H595.8 M576 279.5V285.4 M581 279.5V285.4 M586 279.5V285.4 M591 279.5V285.4"/>
<path class="b" d="M595.4 279.5 V303 M581.9 285.4 V303 M586.8 285.4 V303"/>
<path class="f" d="M558 302.8 L563 295 L566 289 L568 289.5 L566 296 L569 302.8 Z"/><path class="l" d="M556 296 L569 287 M562 303 L573 285"/>
<rect class="l" x="599.4" y="289.0" width="4.8" height="11.4" rx="1.0"/>
<rect class="l" x="625.7" y="289.0" width="4.0" height="11.4" rx="1.0"/>
<rect class="l" x="666.5" y="289.4" width="5.0" height="11.0" rx="1.0"/>
<rect class="l" x="684.4" y="289.0" width="5.0" height="11.4" rx="1.0"/>
<rect class="b" x="607.7" y="290.4" width="6.0" height="3.4" rx="1.2"/>
<rect class="b" x="616.7" y="290.4" width="6.0" height="3.4" rx="1.2"/>
<rect class="b" x="645.2" y="290.4" width="5.4" height="3.4" rx="1.2"/>
<rect class="b" x="656.5" y="290.4" width="5.0" height="3.4" rx="1.2"/>
<rect class="b" x="635.6" y="289.4" width="7.0" height="6.4" rx="1.0"/>
<rect class="f" x="675.4" y="290.4" width="6.0" height="3.4" rx="1.0"/>
<circle class="b" cx="659.1" cy="298.6" r="2.4"/>
<path class="b" d="M630.6 280.5 V303 M627 290 V300"/><path class="f" d="M634 298 l5 -4 l3 3 l-2 2 l3 4 h-8z"/>
<path class="l" d="M643.6 272.5 H661.5 V285.4 M643.6 272.5V285.4"/><path class="f" d="M643.6 272.5 h17.9 v5.5 h-17.9z"/><path class="l" d="M646 279.5 Q652 284 660 279.5 M647 283 H659"/>
<path class="b" d="M602.8 279.3 Q606 278.5 616 279 L617.7 283 L616 285.4 H606 Z"/><path class="f" d="M605 281 h10 l1 2.5 h-10z"/>
<path class="l" d="M692.4 276.5 V285.4 M697.4 276.5 V285.4"/>
<path class="f" d="M677 299.5 h7 v3.8h-7z"/><ellipse class="b" cx="697" cy="301.8" rx="3" ry="1.4"/>
<path class="f" d="M662 284 h8 v1.6 h-8z"/>
</g>
<g id="fore">
<path class="l"  d="M813.2 30.4 L813.2 79.6M806.3 47.6 L820.9 47.6M808.9 57.1 L818.4 57.1"/>
<path class="f"  d="M813.2 30.7 L815.3 39.0 L813.2 43.3 L811.1 39.0ZM813.2 52.0 L815.3 57.1 L813.2 62.3 L811.1 57.1Z"/>
<ellipse class="f" cx="819.2" cy="66.6" rx="1.6" ry="2.8"/><ellipse class="f" cx="819.7" cy="74.9" rx="1.6" ry="2.8"/>
<rect class="l" stroke-width="1.2" x="798.5" y="79.6" width="23.3" height="8.6"/>
<rect class="l" stroke-width="1.2" x="798.5" y="88.2" width="25.0" height="7.8"/>
<rect class="l" stroke-width="1.2" x="795.9" y="96.0" width="32.0" height="6.9"/>
<rect class="l" stroke-width="1.2" x="795.9" y="102.9" width="32.8" height="11.2"/>
<rect class="l" stroke-width="1.2" x="790.7" y="114.1" width="39.7" height="7.8"/>
<rect class="l" stroke-width="1.2" x="792.5" y="121.9" width="38.0" height="15.5"/>
<path class="l"  d="M802.8 79.6 L802.8 102.9M807.1 79.6 L807.1 114.1M811.5 79.6 L811.5 121.9M815.8 79.6 L815.8 114.1M820.1 88.2 L820.1 121.9M824.4 96.0 L824.4 121.9M800.2 102.9 L800.2 121.9M798.5 121.9 L798.5 137.4M810.6 121.9 L810.6 137.4M814.9 121.9 L814.9 137.4M819.2 121.9 L819.2 137.4M825.3 121.9 L825.3 137.4"/>
<path class="l"  d="M798.5 83.9 L821.8 83.9M798.5 92.2 L823.5 92.2M795.9 99.4 L827.9 99.4M795.9 108.4 L828.7 108.4M790.7 118.1 L830.4 118.1M792.5 123.6 L830.4 123.6"/>
<rect class="f"  x="811.5" y="79.6" width="8.6" height="4.3"/>
<rect class="f"  x="815.8" y="83.9" width="6.0" height="4.3"/>
<rect class="f"  x="807.1" y="92.2" width="4.3" height="3.8"/>
<rect class="f"  x="815.8" y="88.2" width="4.3" height="7.8"/>
<rect class="f"  x="811.5" y="96.0" width="4.3" height="6.9"/>
<rect class="f"  x="820.1" y="96.0" width="4.3" height="6.9"/>
<rect class="f"  x="795.9" y="99.4" width="4.3" height="3.5"/>
<rect class="f"  x="802.8" y="102.9" width="4.3" height="5.5"/>
<rect class="f"  x="811.5" y="102.9" width="8.6" height="5.5"/>
<rect class="f"  x="820.1" y="108.4" width="6.9" height="5.7"/>
<rect class="f"  x="807.1" y="108.4" width="4.3" height="5.7"/>
<rect class="f"  x="790.7" y="114.1" width="7.8" height="4.0"/>
<rect class="f"  x="811.5" y="114.1" width="8.6" height="7.8"/>
<rect class="f"  x="798.5" y="121.9" width="4.3" height="5.2"/>
<rect class="f"  x="807.1" y="121.9" width="3.5" height="3.5"/>
<rect class="f"  x="824.4" y="121.9" width="4.3" height="3.5"/>
<rect class="f"  x="792.5" y="130.5" width="6.0" height="6.9"/>
<circle class="b"  cx="805.4" cy="128.8" r="2.2"/>
<path class="b"  d="M830.4 114.1 L833.0 113.3 L834.2 115.9 L830.4 119.3M830.4 127.4 L835.3 127.4 L836.5 130.5 L835.3 134.0 L830.4 134.0"/>
<path class="B" stroke-width="3" d="M783.8 139.2 L839.1 139.2"/>
<path class="b"  d="M796.1 139.6 L796.1 249.9M856.6 150.7 L856.6 249.9M825.6 150.7 L825.6 249.9M788.9 161.9 L788.9 212.8M788.9 224.8 L788.9 249.9"/>
<path class="b"  d="M791.3 138.8 L830.4 138.8M791.3 131.6 L791.3 138.8M830.4 130.0 L830.4 138.8"/>
<path class="b"  d="M798.5 130.0 L798.5 135.6 L804.9 135.6M804.9 130.0 L804.9 134.8M819.2 130.0 L819.2 134.8 L812.8 134.8M834.3 130.0 L835.9 132.4 L834.3 134.8"/>
<path class="f"  d="M751.5 149.3 L777.8 148.6 L804.9 149.0 L804.9 151.3 L777.8 151.2 L751.5 150.4ZM839.9 149.0 L857.4 149.0 L879.7 149.3 L879.7 150.2 L857.4 151.2 L839.9 151.5Z"/>
<rect class="f"  x="782.6" y="139.6" width="6.7" height="11.2"/>
<path class="f"  d="M782.6 150.7 L796.9 150.7 L796.9 161.1 L788.1 161.9 L785.0 164.2 L782.6 158.7Z"/>
<path class="l"  d="M769.8 143.5 L769.8 149.4M773.0 143.5 L773.0 149.4M769.0 143.5 L773.8 143.5M777.8 144.3 L777.8 149.4M781.0 144.3 L781.0 149.4"/>
<rect class="w" stroke="none" x="785.0" y="140.8" width="3.2" height="2.2"/>
<rect class="w" stroke="none" x="790.2" y="153.1" width="4.8" height="6.4"/>
<rect class="f"  x="791.3" y="153.9" width="2.4" height="4.8"/>
<circle class="b"  cx="828.8" cy="145.9" r="3.8"/>
<rect class="b"  x="819.2" y="141.2" width="6.4" height="8.8"/>
<rect class="b"  x="839.1" y="139.6" width="18.3" height="11.2"/>
<rect class="f"  x="838.3" y="139.6" width="4.0" height="10.4"/>
<path class="b"  d="M852.7 136.4 L855.8 136.4 L855.8 142.7 L852.7 142.7 L852.7 136.4M855.8 141.9 L867.0 141.9M863.0 139.6 L865.4 139.6 L866.2 141.9"/>
<rect class="f"  x="839.9" y="151.5" width="14.3" height="3.3"/>
<path class="w" stroke="none" d="M841.5 152.3 L843.4 152.3 L843.4 154.1 L841.5 154.1ZM845.0 152.3 L846.9 152.3 L846.9 154.1 L845.0 154.1ZM848.5 152.3 L850.4 152.3 L850.4 154.1 L848.5 154.1Z"/>
<path class="l"  d="M818.4 158.7 L856.6 158.7"/>
<path class="b"  d="M819.2 159.0 L819.2 162.7M826.4 159.0 L826.4 162.7M833.5 159.0 L833.5 162.7M840.7 159.0 L840.7 162.7M847.9 159.0 L847.9 162.7M855.0 159.0 L855.0 162.7"/>
<path class="l"  d="M741.5 153.9 L776.5 249.9M743.4 153.6 L778.4 249.9M741.2 153.6 L754.7 153.9M741.2 153.6 L741.9 159.5 L754.7 159.5"/>
<path class="f"  d="M745.1 156.3 L751.5 156.3 L751.5 159.0 L745.1 159.0Z"/>
<path class="B" stroke-dasharray="3 1.2" stroke-width="1.8" d="M744.3 160.3 L744.7 195.3"/>
<path class="h" stroke-dasharray="1.5 2" d="M745.9 166.6 L769.8 231.9"/>
<path class="B" stroke-width="2.2" d="M763.5 190.8 L868.6 190.8"/>
<path class="l"  d="M764.2 182.9 L867.0 182.9M764.2 186.5 L867.0 186.5"/>
<path class="l"  d="M765.8 182.6 L765.8 190.8M770.3 182.6 L770.3 190.8M774.8 182.6 L774.8 190.8M779.2 182.6 L779.2 190.8M783.7 182.6 L783.7 190.8M788.1 182.6 L788.1 190.8M792.6 182.6 L792.6 190.8M797.1 182.6 L797.1 190.8M801.5 182.6 L801.5 190.8M806.0 182.6 L806.0 190.8M810.4 182.6 L810.4 190.8M814.9 182.6 L814.9 190.8M819.4 182.6 L819.4 190.8M823.8 182.6 L823.8 190.8M828.3 182.6 L828.3 190.8M832.7 182.6 L832.7 190.8M837.2 182.6 L837.2 190.8M841.7 182.6 L841.7 190.8M846.1 182.6 L846.1 190.8M850.6 182.6 L850.6 190.8M855.0 182.6 L855.0 190.8M859.5 182.6 L859.5 190.8M864.0 182.6 L864.0 190.8"/>
<circle class="f"  cx="773.0" cy="178.6" r="5.0"/><circle class="w" stroke="none" cx="773.5" cy="178.3" r="2.0"/><path class="f"  d="M771.1 183.4 L774.9 183.4 L774.3 185.8 L777.0 188.1 L777.0 190.5 L769.0 190.5 L769.0 188.1 L771.7 185.8Z"/>
<circle class="f"  cx="855.8" cy="178.6" r="5.0"/><circle class="w" stroke="none" cx="856.3" cy="178.3" r="2.0"/><path class="f"  d="M853.9 183.4 L857.7 183.4 L857.1 185.8 L859.8 188.1 L859.8 190.5 L851.9 190.5 L851.9 188.1 L854.6 185.8Z"/>
<path class="f"  d="M797.7 190.5 L797.7 181.8 L800.9 178.6 L808.1 177.8 L810.0 182.6 L810.0 190.5ZM827.5 190.5 L827.5 182.6 L831.9 178.6 L838.3 177.8 L840.2 181.8 L840.2 190.5Z"/>
<path class="w" stroke="none" d="M800.1 185.8 L802.5 185.8 L802.5 190.2 L800.1 190.2ZM804.9 185.8 L807.3 185.8 L807.3 190.2 L804.9 190.2ZM830.4 185.8 L832.7 185.8 L832.7 190.2 L830.4 190.2ZM835.1 185.8 L837.5 185.8 L837.5 190.2 L835.1 190.2Z"/>
<path class="b"  d="M842.3 190.5 L842.3 172.2 L843.9 171.1 L857.4 171.1M862.2 177.8 L865.4 177.8M864.6 185.0 L868.6 185.8 L871.0 188.1 L871.0 191.3"/>
<rect class="b"  x="850.3" y="185.0" width="5.6" height="4.8"/>
<rect class="l"  x="764.2" y="196.1" width="26.3" height="11.2"/>
<rect class="f"  x="764.2" y="192.4" width="26.3" height="3.7"/>
<path class="b"  d="M796.9 192.1 L803.3 207.3 L809.6 192.1M826.4 192.1 L832.7 207.3 L839.9 192.1"/>
<circle class="f"  cx="819.2" cy="195.3" r="1.4"/>
<rect class="b"  x="843.1" y="198.5" width="12.7" height="6.4"/>
<path class="l"  d="M847.1 198.5 L847.1 204.9M851.9 198.5 L851.9 204.9"/>
<rect class="b"  x="856.6" y="199.3" width="9.6" height="7.2"/>
<path class="B" stroke-width="2.2" d="M844.7 193.4 L857.4 193.4 L873.4 196.9"/>
<path class="f"  d="M865.4 192.9 L870.2 193.7 L874.2 196.9 L872.6 198.5 L867.0 195.6Z"/>
<path class="f"  d="M791.3 208.1 L835.1 208.1 L835.1 211.2 L791.3 211.2Z"/>
<path class="w" stroke="none" d="M798.5 208.8 L819.2 208.8 L819.2 210.1 L798.5 210.1Z"/>
<path class="b"  d="M777.0 214.4 L862.2 214.4M777.8 224.8 L860.6 224.8M862.2 213.6 L862.2 223.2 L860.6 224.8M777.8 214.4 L777.8 223.2 L779.4 224.8M785.8 214.4 L785.8 224.8M820.8 211.2 L820.8 224.8M826.4 211.2 L826.4 224.8"/>
<path class="b"  d="M843.9 214.4 L843.9 211.6 L847.1 211.6 L847.1 214.4M851.9 214.4 L851.9 211.6 L855.5 211.6 L855.5 214.4"/>
<path class="l"  d="M789.7 212.8 L793.7 209.6M839.9 210.4 L841.5 208.8"/>
<circle class="f"  cx="809.6" cy="231.9" r="1.5"/>
<circle class="f"  cx="838.3" cy="231.9" r="1.5"/>
<circle class="f"  cx="852.7" cy="231.9" r="1.5"/>
<path class="l"  d="M811.2 225.6 L811.2 229.1M820.8 225.6 L820.8 230.0"/>
<path class="b" d="M878.1 239.9 V222 Q878.1 218.4 882 218.4 H888.6 Q892.5 218.4 892.5 222 V239.9 Z"/>
<rect class="b"  x="880.5" y="223.2" width="9.6" height="11.9"/>
<ellipse class="b" cx="884.6" cy="229.6" rx="1.7" ry="4"/><path class="l" d="M887.6 224.5 V233 M884.6 225.6 L887.6 224.5"/>
<path class="l"  d="M878.1 220.8 L892.5 220.8"/>
<path class="B"  d="M876.5 239.9 L894.1 239.9"/>
<path class="l"  d="M877.3 239.9 L870.2 243.4 L870.2 249.9M893.3 239.9 L898.8 242.3"/>
<path class="B" stroke-width="1.6" d="M870.2 242.3 L910.0 242.3"/>
<path class="f"  d="M873.4 243.1 L879.7 243.1 L879.7 246.3 L873.4 246.3ZM882.9 243.4 L889.3 243.4 L889.3 246.0 L882.9 246.0ZM895.7 243.4 L898.8 243.4 L898.8 246.3 L895.7 246.3ZM901.2 243.1 L910.0 243.1 L910.0 247.1 L901.2 247.1Z"/>
<path class="w" stroke="none" d="M902.8 244.0 L905.2 244.0 L905.2 246.0 L902.8 246.0ZM906.5 244.0 L909.0 244.0 L909.0 246.0 L906.5 246.0Z"/>
<path class="f"  d="M800.1 245.0 L804.9 242.3 L816.8 242.3 L819.2 245.0 L816.8 247.9 L804.9 247.9Z"/>
<path class="w" stroke="none" d="M810.4 243.1 L812.8 243.1 L812.8 247.1 L810.4 247.1Z"/>
<rect class="f"  x="830.4" y="245.0" width="25.5" height="3.7"/>
<path class="w" stroke="none" d="M835.1 246.0 L837.5 246.0 L837.5 248.7 L835.1 248.7ZM841.5 246.0 L843.9 246.0 L843.9 248.7 L841.5 248.7ZM847.9 246.0 L850.3 246.0 L850.3 248.7 L847.9 248.7Z"/>
</g>
<g id="fore2">
<path class="l"  d="M690.0 261.6 L779.0 261.6M690.0 264.8 L779.0 264.9"/>
<path class="b"  d="M700.2 298.7 L700.2 285.0 L711.5 284.4 L734.2 286.2 L737.8 289.2 L741.4 296.9 L742.6 301.7M707.3 285.0 L707.3 301.7M700.2 298.7 L741.4 298.7M707.3 301.7 L742.6 301.7M704.3 284.7 L704.3 281.4 L705.5 280.8 L710.3 280.8 L711.5 282.6 L711.5 284.4"/>
<rect class="f"  x="701.4" y="287.4" width="3.6" height="9.6"/>
<path class="w" stroke="none" d="M702.2 288.6 L703.7 288.6 L703.7 291.0 L702.2 291.0ZM702.2 292.7 L703.7 292.7 L703.7 295.1 L702.2 295.1Z"/>
<path class="l"  d="M692.2 277.2 L692.2 285.6M697.4 277.2 L697.4 285.6M690.0 285.9 L700.2 285.9"/>
<ellipse class="b" cx="696.6" cy="302.9" rx="3.2" ry="1.5"/>
<path class="b"  d="M751.0 287.4 L768.9 287.4M751.0 287.4 L751.6 291.6 L754.5 293.1 L764.1 293.1 L768.9 291.0 L769.5 287.4M752.1 285.6 L752.7 283.5 L760.5 283.5 L761.7 285.6 L752.1 285.6M751.0 289.8 L768.3 289.8"/>
<path class="l"  d="M747.4 279.0 L747.4 302.9M755.1 277.2 L755.1 283.5M768.3 277.8 L768.3 287.4M764.1 295.7 L764.1 302.9"/>
<path class="f"  d="M742.6 301.7 L743.8 292.1 L747.4 287.4 L751.0 287.4 L751.0 302.9 L742.6 302.9Z"/>
<path class="w" stroke="none" d="M745.0 296.9 L748.6 292.1 L748.6 300.5 L744.4 301.1Z"/>
<path class="b"  d="M752.1 301.7 L752.1 293.3M742.6 287.4 L751.0 287.4"/>
<path class="f"  d="M764.7 303.1 L773.7 287.4 L777.8 287.4 L777.8 289.2 L774.3 289.8 L768.9 303.1Z"/>
<path class="B" stroke-width="2.2" d="M776.1 288.1 L870.0 288.1"/>
<path class="b"  d="M774.3 304.1 L774.3 292.1 L775.5 289.8 L777.8 288.8M788.6 288.6 L788.6 304.1M817.9 288.6 L817.9 304.1"/>
<path class="l"  d="M798.2 295.7 L798.2 304.1M814.9 298.1 L814.9 304.1M831.6 295.7 L831.6 304.1"/>
<path class="f"  d="M844.2 298.7 L849.6 300.5 L854.9 298.7 L854.9 304.1 L844.2 304.1Z"/>
<path class="w" stroke="none" d="M846.0 301.1 L849.6 301.7 L853.1 301.1 L853.1 303.1 L846.0 303.1Z"/>
<circle class="b"  cx="863.3" cy="301.9" r="2.3"/>
<rect class="f"  x="869.3" y="289.8" width="0.7" height="8.4"/>
<path class="l"  d="M768.9 279.6 L870.0 279.6M778.4 283.8 L870.0 283.8"/>
<path class="b"  d="M800.0 279.6 L800.0 288.0M805.5 279.6 L805.5 288.0M811.0 279.6 L811.0 288.0M816.4 279.6 L816.4 288.0M821.9 279.6 L821.9 288.0M827.4 279.6 L827.4 288.0M832.9 279.6 L832.9 288.0M838.4 279.6 L838.4 288.0M843.9 279.6 L843.9 288.0M849.4 279.6 L849.4 288.0M854.9 279.6 L854.9 288.0M860.4 279.6 L860.4 288.0M865.9 279.6 L865.9 288.0"/>
<path class="f"  d="M779.0 259.9 L780.8 253.9 L791.6 250.3 L791.6 246.7 L797.6 246.7 L797.6 287.4 L773.7 287.4 L777.2 277.8 L779.0 269.4Z"/>
<path class="w" stroke="none" d="M780.8 265.9 L783.8 265.9 L783.8 276.6 L780.8 276.6ZM785.6 257.5 L788.0 257.5 L788.0 264.7 L785.6 264.7ZM789.2 253.9 L791.0 253.9 L791.0 277.8 L789.2 277.8ZM793.0 251.5 L794.2 251.5 L794.2 285.0 L793.0 285.0ZM779.6 280.2 L785.6 280.2 L785.6 282.6 L779.6 282.6Z"/>
<path class="b"  d="M773.7 270.6 L778.4 270.6 L778.4 277.8M773.7 270.6 L773.7 283.8M785.6 253.3 L789.2 250.3 L791.6 249.7"/>
<path class="l"  d="M768.3 230.0 L780.8 261.3M771.9 230.0 L782.6 258.1"/>
<path class="b"  d="M788.6 230.0 L788.6 246.7M796.4 230.0 L796.4 246.7"/>
<rect class="l"  x="798.2" y="259.9" width="13.7" height="5.4"/>
<rect class="l"  x="807.7" y="249.7" width="11.4" height="3.6"/>
<rect class="l"  x="819.7" y="247.9" width="4.8" height="5.4"/>
<rect class="f"  x="819.7" y="259.3" width="13.1" height="11.4"/>
<rect class="f"  x="798.2" y="253.3" width="8.4" height="6.0"/>
<path class="b"  d="M825.1 247.9 L870.0 247.9M825.7 230.0 L825.7 247.9M856.7 230.0 L856.7 247.9M813.1 259.3 L870.0 259.3M813.1 259.3 L813.1 265.9 L798.2 265.9M825.1 249.7 L825.1 259.3M837.6 248.5 L837.6 259.3M851.3 248.5 L851.3 259.3"/>
<path class="b"  d="M833.4 259.3 L833.4 279.6M845.4 259.3 L845.4 279.6M857.3 259.3 L857.3 279.6"/>
<rect class="f"  x="860.9" y="259.3" width="6.0" height="28.1"/>
<path class="w" stroke="none" d="M862.7 261.1 L863.9 261.1 L863.9 277.8 L862.7 277.8Z"/>
<path class="l"  d="M810.7 265.9 L810.7 279.6M827.4 270.6 L827.4 279.6"/>
<rect class="b"  x="799.4" y="273.0" width="6.0" height="9.6"/>
<rect class="f"  x="801.2" y="274.8" width="2.4" height="6.6"/>
<path class="l"  d="M798.2 268.2 L809.5 268.2 L814.3 270.6"/>
<path class="f"  d="M800.0 245.3 L804.7 242.5 L817.9 242.0 L819.7 244.3 L825.1 244.9 L825.1 246.7 L819.1 247.9 L816.7 249.1 L807.1 249.1 L803.5 247.3Z"/>
<path class="w" stroke="none" d="M811.3 243.1 L813.1 243.1 L813.1 247.3 L811.3 247.3ZM814.3 243.7 L815.7 243.7 L815.7 246.7 L814.3 246.7Z"/>
<rect class="f"  x="830.4" y="244.9" width="25.7" height="4.2"/>
<path class="w" stroke="none" d="M832.2 245.8 L835.2 245.8 L833.4 248.5 L831.6 248.5ZM837.6 246.1 L840.6 246.1 L840.6 248.5 L837.6 248.5ZM843.6 246.1 L846.6 246.1 L846.6 248.5 L843.6 248.5ZM849.6 245.8 L852.5 245.8 L852.5 248.5 L849.6 248.5Z"/>
<circle class="f"  cx="809.5" cy="232.2" r="1.5"/>
<circle class="f"  cx="838.2" cy="232.2" r="1.5"/>
<circle class="f"  cx="852.5" cy="232.2" r="1.5"/>
</g>
<g id="tur">
<path class="b"  d="M870.6 247.9 L870.6 243.3 L872.0 242.6 L921.8 242.6 L921.8 258.6 L905.2 265.9M870.6 247.9 L921.8 247.9M909.1 254.6 L921.8 254.6M869.3 247.9 L869.3 259.2M888.6 247.9 L888.6 259.2M860.0 259.2 L905.2 259.2M905.2 259.2 L905.2 305.7M868.6 273.2 L905.2 273.2M868.6 259.2 L868.6 304.4"/>
<path class="f"  d="M873.3 243.3 L878.6 243.3 L878.6 245.7 L873.3 245.7ZM883.9 243.3 L888.6 243.3 L888.6 245.7 L883.9 245.7ZM893.2 243.3 L895.9 243.3 L895.9 245.7 L893.2 245.7ZM899.2 243.3 L921.1 243.3 L921.1 247.3 L899.2 247.3Z"/>
<path class="w" stroke="none" d="M901.2 244.1 L903.8 244.1 L902.5 247.0 L900.5 247.0ZM905.8 244.1 L909.1 244.1 L908.5 247.0 L905.2 247.0ZM911.1 244.1 L914.5 244.1 L914.5 247.0 L911.1 247.0ZM916.5 244.1 L919.8 244.1 L919.8 247.0 L916.5 247.0Z"/>
<rect class="f"  x="860.0" y="260.6" width="4.0" height="25.2"/>
<rect class="f"  x="865.3" y="273.8" width="2.7" height="12.0"/>
<path class="l"  d="M866.0 260.6 L866.0 273.8"/>
<rect class="b"  x="870.0" y="279.1" width="9.3" height="9.3"/>
<path class="l"  d="M870.0 282.5 L879.3 282.5M870.0 285.1 L879.3 285.1"/>
<rect class="b"  x="869.3" y="289.8" width="4.6" height="14.6"/>
<path class="b"  d="M879.9 279.1 L879.9 305.7"/>
<path class="f"  d="M881.3 304.4 L881.9 293.8 L883.9 290.4 L887.9 290.4 L888.6 293.8 L888.6 300.4 L899.9 300.4 L899.9 305.7 L881.3 305.7Z"/>
<circle class="w" stroke="none" cx="885.5" cy="296.4" r="1.6"/>
<rect class="b"  x="861.3" y="299.7" width="4.0" height="4.6"/>
<rect class="f"  x="905.8" y="301.1" width="8.0" height="4.6"/>
<path class="B" stroke-width="2.2" d="M860.0 305.7 L905.2 305.7"/>
<path class="b"  d="M888.6 306.4 L1038.0 306.4"/>
<rect class="f" style="fill:#c4c4c4" x="889.5" y="315.0" width="107.3" height="6.4"/>
<path class="h" stroke="#444" stroke-width=".8" d="M889.9 315.0 L998.2 315.0M889.9 316.6 L998.2 316.6M889.9 318.2 L998.2 318.2M889.9 319.8 L998.2 319.8"/>
<path class="b"  d="M918.4 307.0 L918.4 321.7M899.9 315.0 L899.9 321.7M955.6 315.0 L955.6 321.7M996.8 307.0 L996.8 321.7"/>
<path class="h" stroke="#555" d="M891.9 315.0 L891.9 321.7M894.8 315.0 L894.8 321.7M897.7 315.0 L897.7 321.7M900.6 315.0 L900.6 321.7M903.6 315.0 L903.6 321.7M906.5 315.0 L906.5 321.7M909.4 315.0 L909.4 321.7M912.3 315.0 L912.3 321.7M915.3 315.0 L915.3 321.7M918.2 315.0 L918.2 321.7M921.1 315.0 L921.1 321.7M924.0 315.0 L924.0 321.7M927.0 315.0 L927.0 321.7M929.9 315.0 L929.9 321.7M932.8 315.0 L932.8 321.7M935.7 315.0 L935.7 321.7M938.6 315.0 L938.6 321.7M941.6 315.0 L941.6 321.7M944.5 315.0 L944.5 321.7M947.4 315.0 L947.4 321.7M950.3 315.0 L950.3 321.7M953.3 315.0 L953.3 321.7M956.2 315.0 L956.2 321.7M959.1 315.0 L959.1 321.7M962.0 315.0 L962.0 321.7M964.9 315.0 L964.9 321.7M967.9 315.0 L967.9 321.7M970.8 315.0 L970.8 321.7M973.7 315.0 L973.7 321.7M976.6 315.0 L976.6 321.7M979.6 315.0 L979.6 321.7M982.5 315.0 L982.5 321.7M985.4 315.0 L985.4 321.7M988.3 315.0 L988.3 321.7M991.2 315.0 L991.2 321.7M994.2 315.0 L994.2 321.7M997.1 315.0 L997.1 321.7"/>
<path class="f"  d="M928.4 299.1 L934.4 299.1 L946.3 321.7 L938.4 321.7Z"/>
<path class="l"  d="M905.2 313.0 L913.8 307.0"/>
<rect class="f"  x="971.6" y="308.4" width="10.6" height="13.3"/>
<path class="f"  d="M968.9 311.0 L971.6 309.7 L971.6 321.7 L966.3 321.7Z"/>
<rect class="f"  x="1004.8" y="315.0" width="8.0" height="8.0"/>
<path class="w" stroke="none" d="M1006.1 316.3 L1011.4 316.3 L1011.4 317.7 L1006.1 317.7Z"/>
<path class="l"  d="M1018.1 308.4 L1021.4 315.0M1021.4 315.0 L1031.4 315.0 L1031.4 321.7"/>
<rect class="b"  x="1021.4" y="316.1" width="3.3" height="4.3"/>
<rect class="b"  x="1026.7" y="316.1" width="2.7" height="4.3"/>
<rect class="b"  x="1035.3" y="315.0" width="4.6" height="5.3"/>
<path class="b"  d="M929.7 287.1 L929.7 259.2 L931.1 257.6 L942.4 257.2 L944.0 258.6 L944.0 262.5 L970.3 262.5 L1000.8 266.8 L1012.8 268.1 L1016.1 269.9 L1023.4 285.1M929.7 287.1 L1032.7 287.1M932.4 263.2 L932.4 285.8M954.3 266.1 L1000.8 272.8M972.9 264.8 L972.9 287.1M1001.5 268.8 L1001.5 287.1M929.7 263.2 L944.0 263.2"/>
<rect class="b" x="935.7" y="263.9" width="18.6" height="9.3" rx="1.8"/>
<path class="l"  d="M938.4 267.2 L945.0 266.1 L947.7 267.9 L953.0 267.2M937.7 270.5 L953.0 270.5"/>
<rect class="b" x="1008.6" y="275.3" width="4.6" height="5.2" rx="1"/>
<path class="f"  d="M1008.8 283.1 L1015.4 283.1 L1016.1 286.5 L1008.1 286.5ZM979.6 278.5 L994.2 278.5 L994.2 287.1 L979.6 287.1ZM963.6 283.1 L974.2 283.1 L974.2 287.1 L962.3 287.1ZM999.7 264.8 L1003.2 264.5 L1003.5 269.9 L1000.0 270.1ZM939.7 258.6 L943.7 258.6 L943.7 262.5 L939.7 262.5Z"/>
<path class="w" stroke="none" d="M981.5 281.1 L985.5 281.1 L985.5 286.5 L981.5 286.5ZM1000.8 265.9 L1002.1 265.9 L1002.1 268.8 L1000.8 268.8Z"/>
<path class="l"  d="M994.2 279.1 L1000.8 277.8M968.9 281.1 L968.9 283.1"/>
<path class="b" d="M1021.4 276.2 L1031.5 276.2 L1098 277 M1022.6 283 L1031.5 282.8 L1098 281.8 M1024.4 276.5 V282.8 M1031.1 276.5 V282.8"/><rect class="f" x="1096.8" y="276.8" width="2.6" height="5.4"/>
<path class="f"  d="M947.0 287.1 L1032.7 287.1 L1032.7 289.5 L947.0 289.5Z"/>
<path class="b"  d="M947.0 287.1 L947.0 299.1M1032.7 287.1 L1032.7 304.4M947.0 292.4 L1032.7 292.4M975.6 289.5 L975.6 299.1M978.9 289.5 L978.9 299.1"/>
<path class="f"  d="M1008.8 289.5 L1016.7 289.5 L1016.1 292.2 L1009.4 292.2ZM963.6 289.5 L970.3 289.5 L970.3 291.4 L963.6 291.4Z"/>
<rect class="f" style="fill:#d0d0d0" x="917.4" y="298.0" width="116.4" height="7.4"/>
<path class="l" stroke="#333" d="M917.1 298.0 L1034.0 298.0M917.1 300.4 L1034.0 300.4M917.1 303.1 L1034.0 303.1"/>
<path class="b" stroke-width="1.8" d="M920.4 297.5 L920.4 306.0M928.3 297.5 L928.3 306.0M936.1 297.5 L936.1 306.0M944.0 297.5 L944.0 306.0M951.8 297.5 L951.8 306.0M959.6 297.5 L959.6 306.0M967.5 297.5 L967.5 306.0M975.3 297.5 L975.3 306.0M983.1 297.5 L983.1 306.0M991.0 297.5 L991.0 306.0M998.8 297.5 L998.8 306.0M1006.7 297.5 L1006.7 306.0M1014.5 297.5 L1014.5 306.0M1022.3 297.5 L1022.3 306.0M1030.2 297.5 L1030.2 306.0"/>
<rect class="f"  x="955.6" y="298.4" width="9.3" height="7.3"/>
<rect class="f"  x="1020.0" y="287.1" width="12.7" height="4.4"/>
<path class="b"  d="M1032.7 287.1 L1032.7 306.5"/>
<path class="f"  d="M1021.1 297.7 L1022.8 296.6 L1024.4 297.7 L1024.4 305.4 L1021.1 305.4ZM1026.7 297.7 L1028.3 296.6 L1030.5 298.2 L1033.9 302.1 L1034.4 305.4 L1026.7 305.4Z"/>
<path class="b"  d="M1042.7 306.5 L1042.7 298.8 L1043.8 297.7 L1058.2 297.7 L1059.3 298.8 L1059.3 306.5M1051.6 297.7 L1051.6 306.5"/>
<path class="b"  d="M1020.0 306.5 L1066.0 306.5 L1067.1 307.6 L1067.1 320.9M1030.0 306.5 L1030.0 320.9M1057.7 306.5 L1057.7 320.9"/>
<rect class="b"  x="1038.3" y="309.3" width="4.4" height="3.9"/>
<rect class="b"  x="1044.4" y="309.3" width="4.4" height="3.9"/>
<rect class="b"  x="1050.5" y="309.3" width="4.4" height="3.9"/>
<rect class="b"  x="1020.0" y="314.3" width="8.9" height="6.7"/>
<rect class="b"  x="1034.4" y="314.8" width="5.5" height="4.4"/>
<rect class="b"  x="1046.0" y="314.8" width="5.0" height="4.4"/>
<rect class="f"  x="1057.7" y="316.5" width="8.9" height="4.4"/>
<path class="l"  d="M1088.2 316.5 L1107.6 316.8M1094.3 315.4 L1094.3 319.6M1097.0 315.4 L1097.0 319.6"/>
<path class="b"  d="M1109.8 316.5 L1119.8 316.3 L1120.9 313.7 L1137.5 313.7M1113.1 316.5 L1113.7 319.6M1115.3 316.5 L1115.5 319.6M1123.1 314.8 L1126.4 317.6 L1131.9 317.6M1137.5 314.3 L1137.5 319.3M1141.9 314.3 L1141.9 319.3M1145.2 314.8 L1145.2 319.3M1148.6 314.8 L1148.6 319.3M1139.7 316.5 L1155.2 316.5M1151.3 320.9 L1150.2 324.3 L1152.5 325.4"/>
<path class="f"  d="M1118.6 316.5 L1123.1 315.4 L1124.2 317.6 L1119.2 318.5ZM1141.9 313.7 L1153.0 313.7 L1153.0 315.4 L1141.9 315.4ZM1161.9 315.4 L1167.4 315.4 L1167.4 317.1 L1161.9 317.1ZM1170.7 315.9 L1179.6 315.4 L1179.6 317.1 L1170.7 317.6Z"/>
<path class="l"  d="M1139.2 312.1 L1139.2 288.2M1137.5 288.2 L1177.4 288.2 L1200.0 291.2M1139.2 312.1 L1200.0 312.1M1180.2 290.5 L1180.2 312.1M1140.8 288.8 L1140.8 292.1"/>
<path class="l" d="M1143 289.3 H1161.3 V296 Q1161.3 298.2 1159 298.2 H1146 Q1143 298.2 1143 295.5 Z"/>
<path class="l"  d="M1146.4 293.2 L1150.8 291.0 L1156.3 291.6 L1159.7 293.2M1145.2 295.4 L1160.2 295.4"/>
<circle class="b"  cx="1174.1" cy="311.0" r="2.8"/>
<path class="l"  d="M1176.3 304.3 L1176.3 311.0"/>
<path class="l"  d="M1139.2 319.3 L1200.0 317.8"/>
<path class="l"  d="M1199.9 288.3 L1176.6 287.7 L1206.6 292.9 L1207.1 290.5 L1210.4 290.1 L1211.0 293.3 L1217.6 293.8 L1218.7 292.5 L1222.6 292.5 L1225.4 295.5 L1230.9 311.0M1160.0 292.4 L1206.6 296.8 L1222.1 295.2M1180.5 290.1 L1180.5 316.5M1209.9 296.8 L1209.9 312.1M1182.2 312.1 L1248.1 312.1 L1248.1 318.2M1186.0 304.3 L1186.0 312.1M1183.3 312.1 L1183.3 318.7M1211.0 314.3 L1211.0 318.2"/>
<path class="f"  d="M1198.8 282.7 L1199.9 288.3 L1196.6 290.5ZM1192.1 303.8 L1202.1 303.8 L1201.6 311.5 L1193.3 311.5ZM1216.5 308.8 L1223.2 308.8 L1223.7 311.5 L1216.0 311.5ZM1218.2 292.5 L1223.0 292.5 L1224.8 294.9 L1230.9 311.0 L1229.3 311.0 L1223.7 295.5ZM1214.3 313.8 L1220.4 313.8 L1220.4 315.2 L1214.3 315.2ZM1238.7 316.0 L1242.0 316.0 L1242.6 317.6 L1238.1 317.6Z"/>
<rect class="l" x="1215.9" y="300.4" width="4.8" height="4.6" rx="1"/>
<circle class="b"  cx="1173.9" cy="311.5" r="2.8"/>
<rect class="f"  x="1170.5" y="309.9" width="3.9" height="4.4"/>
<circle class="w" stroke="none" cx="1174.2" cy="311.2" r="1.2"/>
<path class="l"  d="M1176.6 304.3 L1176.6 312.1"/>
<path class="f"  d="M1162.2 314.9 L1165.5 314.9 L1165.5 316.5 L1162.2 316.5ZM1171.1 315.4 L1174.4 315.4 L1174.4 317.1 L1171.1 317.1Z"/>
<path class="l"  d="M1193.3 304.3 L1206.6 303.4"/>
<path class="l" d="M1230 301.6 L1238 301.6 L1305.5 303.4 M1231.5 308.9 L1238 308.8 L1305.5 307.6 M1232 301.8 V308.8 M1239.2 301.8 V308.8"/><rect class="f" x="1304.3" y="303.2" width="2.8" height="4.6"/>
</g>
<g id="bowd">
<path class="b" d="M970.6 321.9 L932.7 366.7 M973 321.9 L935 366.7" stroke-width="1.3"/>
<path class="l" d="M966 321.9 L946 345 M962 326 v6 M956 333 v7 M950 340 v7 M945 346 l-4 3 M940 352 v6 M946 345 l-6 2"/>
<path class="h" d="M919.8 321.9 L926.8 358.8" stroke="#666"/>
<path class="f" d="M926 357 l2.5 -1 l3 4 l4 -1 l1 6 l-4 3 l-5 -2z"/>
<path class="f" opacity=".45" d="M1363.7 313.9 L1367.7 309.9 L1373.7 308.9 L1373.7 313.9ZM1382.6 313.9 L1388.6 308.9 L1397.6 308.9 L1397.6 312.3 L1391.6 313.5ZM1407.5 312.3 L1410.5 306.9 L1417.5 306.9 L1419.5 312.3ZM1429.5 312.3 L1432.5 310.9 L1433.4 312.9ZM1441.4 311.9 L1449.4 309.5 L1455.4 309.9 L1463.3 311.5ZM1487.3 309.9 L1491.2 307.5 L1500.0 307.5 L1500.0 310.9Z"/>
<path class="f" opacity=".6" d="M1440.0 312.2 L1449.0 308.8 L1456.9 308.8 L1462.6 311.3ZM1488.5 310.2 L1490.8 307.3 L1496.4 307.3 L1497.6 310.2ZM1499.8 308.8 L1502.1 306.1 L1512.3 307.3 L1514.5 308.8ZM1536.0 307.9 L1540.5 303.4 L1551.8 303.4 L1557.4 307.3Z"/>
<path class="f"  d="M1524.7 323.1 L1529.2 315.2 L1532.6 311.8 L1539.3 314.0 L1542.7 318.5 L1539.3 325.3 L1533.7 329.2 L1530.3 328.3Z"/>
<path class="l"  d="M1523.5 322.4 L1531.4 329.8 L1541.6 323.1M1530.3 312.9 L1542.7 317.4"/>
<path class="f" opacity=".8" d="M1569.8 324.2 L1577.7 318.5 L1581.1 316.3 L1582.2 323.1 L1577.7 327.6 L1575.5 325.3Z"/>
<path class="l"  d="M1569.1 324.2 L1575.5 330.5 L1582.2 324.2"/>
<path class="h" stroke-width=".7" d="M1583.8 285.8 L1583.8 306.1M1575.5 306.1 L1583.8 291.4M1580.0 299.4 L1586.8 299.4"/>
<path class="l"  d="M1559.7 300.5 L1559.7 306.6 L1565.3 306.6M1569.8 301.6 L1569.8 306.6"/>
<path class="f"  d="M1582.9 291.4 L1584.7 291.4 L1584.7 294.8 L1582.9 294.8ZM1581.8 300.5 L1585.9 300.5 L1585.9 306.1 L1582.7 306.1Z"/>
<path class="l"  d="M1587.9 306.1 L1584.5 309.5 L1581.1 315.2"/>
<path class="f"  d="M1539.3 425.8 L1546.1 420.1 L1555.2 414.5 L1556.3 417.9 L1550.6 423.5 L1546.1 426.5Z"/>
<path class="w" stroke="none" d="M1545.0 422.4 L1548.4 420.1 L1549.5 422.4 L1546.1 424.7Z"/>
</g>
<g id="plan1">
<path class="b" stroke-width="1.4" d="M55.7 611.8 C55.8 610.8 55.9 607.9 56.2 606.0 C56.5 604.1 56.7 602.8 57.7 600.7 C58.7 598.6 59.4 596.1 62.1 593.4 C64.8 590.7 69.4 587.1 73.8 584.7 C78.2 582.3 83.1 580.5 88.4 578.8 C93.8 577.1 97.2 576.4 105.9 574.5 C114.7 572.6 127.3 570.1 140.9 567.2 C154.5 564.3 172.8 560.1 187.7 556.9 C202.5 553.7 213.1 551.7 230.0 548.0 C246.9 544.3 269.4 538.3 288.9 534.6 C308.4 530.9 327.2 528.0 346.8 525.8 C366.4 523.6 392.4 522.8 406.3 521.6 C420.2 520.5 415.6 520.5 430.0 518.9 C444.4 517.3 470.9 514.0 492.6 512.0 C514.3 510.0 538.8 508.5 560.0 506.9 C581.2 505.3 596.7 503.8 620.0 502.5 C643.3 501.2 676.7 500.1 700.0 499.4 C723.3 498.6 743.3 498.3 760.0 498.0 C776.7 497.7 784.3 497.3 800.0 497.5 C815.7 497.7 838.6 498.5 854.0 499.2 C869.4 499.9 880.5 501.0 892.5 501.5 C904.5 502.0 920.4 502.2 926.0 502.4"/>
<path class="b" stroke-width="1.4" d="M55.7 611.8 C55.8 612.7 55.9 615.2 56.2 617.0 C56.5 618.8 56.7 620.5 57.7 622.6 C58.7 624.8 59.4 627.5 62.1 629.9 C64.8 632.3 69.4 635.1 73.8 637.2 C78.2 639.3 83.1 640.9 88.4 642.5 C93.8 644.1 97.2 644.6 105.9 646.9 C114.7 649.2 127.3 653.1 140.9 656.2 C154.5 659.3 172.8 662.9 187.7 665.7 C202.5 668.5 213.1 670.3 230.0 673.2 C246.9 676.1 273.8 680.6 288.9 682.9 C304.0 685.2 300.9 685.2 320.5 687.2 C340.1 689.2 388.1 693.4 406.3 695.2 C424.6 697.0 415.6 696.3 430.0 697.9 C444.4 699.5 470.9 702.8 492.6 705.0 C514.3 707.2 538.8 709.7 560.0 711.4 C581.2 713.1 596.7 714.0 620.0 715.3 C643.3 716.6 676.7 718.5 700.0 719.4 C723.3 720.3 743.3 720.4 760.0 720.6 C776.7 720.8 784.3 720.6 800.0 720.4 C815.7 720.2 839.1 719.9 854.0 719.6 C868.9 719.3 877.3 719.1 889.3 718.8 C901.3 718.5 919.9 717.8 926.0 717.6"/>
<path class="b" stroke-width="1.5" d="M926.0 502.4 C934.7 502.9 959.0 504.0 978.0 505.7 C997.0 507.4 1012.4 509.4 1040.0 512.5 C1067.6 515.6 1109.1 519.9 1143.6 524.2 C1178.1 528.5 1221.9 534.9 1247.0 538.5 C1272.1 542.1 1286.2 544.7 1294.0 545.9"/>
<path class="b" stroke-width="1.4" d="M926.0 717.6 C934.7 717.0 959.0 715.5 978.0 714.0 C997.0 712.5 1012.4 711.2 1040.0 708.5 C1067.6 705.8 1109.1 701.4 1143.6 697.5 C1178.1 693.6 1221.9 688.2 1247.0 685.0 C1272.1 681.8 1286.2 679.3 1294.0 678.2"/>
<path class="f" d="M1003 508.8h8v3.8h-8z M1056.3 519.7h9.4v4.8h-9.4z M1002.8 707.4h6.5v3.8h-6.5z M1057.3 696.1h7.5v3.8h-7.5z"/>
<path class="l" stroke="#222" stroke-width="1" d="M1294.0 545.9 L1340.0 554.8 L1388.0 564.1 L1482.0 582.3 L1546.0 594.6 L1576.0 600.4 L1580.5 601.5 L1584.5 604.0 L1587.2 608.0 L1587.6 612.1"/>
<path class="l" stroke="#222" stroke-width="1" d="M1294.0 678.2 L1340.0 668.9 L1388.0 659.1 L1482.0 640.1 L1546.0 627.1 L1575.0 621.3 L1579.3 620.4 L1584.0 618.5 L1587.0 615.5 L1587.6 612.1"/>
<path class="t" stroke="#333" d="M1078 519.4 L1143.6 527 L1247 541.4 L1283 546.6 M1075 701.2 L1143.6 694.6 L1247 681.6 L1283 676.6"/>
<path class="t" stroke="#333" d="M400 524.2 L492.6 514.2 L560 509 L600 506.5 M400 692.3 L492.6 702.6 L560 709 L600 712" stroke-width=".9"/>
<path class="h" stroke-dasharray="8 2 2 2" d="M35 611.9 H56"/><path class="h" d="M1601 611.8 H1611"/>
</g>
<g id="plan2">
<path class="b"  d="M55.7 608.0 L59.2 611.8 L55.7 615.6M59.2 611.8 L62.7 611.8"/>
<path class="f"  d="M66.5 609.5 L70.9 608.6 L73.8 612.4 L76.7 617.4 L74.4 619.1 L70.9 614.5 L67.4 613.9Z"/>
<circle class="w" stroke="none" cx="68.8" cy="611.5" r="0.9"/>
<path class="l" stroke-dasharray="2 1.5" d="M70.9 606.6 L73.8 605.7M76.7 608.6 L79.1 610.9"/>
<path class="h"  d="M59.2 632.8 L55.7 637.8"/>
<path class="h" stroke="#444" stroke-width=".8" d="M86.9 603.6 L234.4 603.6M86.9 620.0 L234.4 620.0"/>
<path class="b" stroke-width="2.7" d="M107.4 607.0 L234.4 607.0M107.4 616.6 L234.4 616.6"/>
<rect class="f"  x="86.9" y="605.7" width="21.3" height="12.3"/>
<circle class="w" stroke="none" cx="89.9" cy="611.5" r="1.3"/>
<circle class="w" stroke="none" cx="97.2" cy="611.5" r="1.3"/>
<circle class="w" stroke="none" cx="104.5" cy="611.5" r="1.3"/>
<circle class="b" stroke-width="1.2" cx="111.8" cy="611.5" r="1.8"/>
<circle class="b" stroke-width="1.2" cx="118.5" cy="611.5" r="1.8"/>
<circle class="b" stroke-width="1.2" cx="125.8" cy="611.5" r="1.8"/>
<circle class="b" stroke-width="1.2" cx="133.6" cy="611.5" r="1.8"/>
<circle class="b" stroke-width="1.2" cx="140.9" cy="611.5" r="1.8"/>
<circle class="b" stroke-width="1.2" cx="149.7" cy="611.5" r="1.8"/>
<circle class="b" stroke-width="1.2" cx="157.0" cy="611.5" r="1.8"/>
<circle class="b" stroke-width="1.2" cx="164.3" cy="611.5" r="1.8"/>
<circle class="b" stroke-width="1.2" cx="171.6" cy="611.5" r="1.8"/>
<circle class="b" stroke-width="1.2" cx="178.9" cy="611.5" r="1.8"/>
<circle class="b" stroke-width="1.2" cx="186.2" cy="611.5" r="1.8"/>
<path class="l"  d="M186.2 603.6 L186.2 619.7M85.5 605.7 L85.5 618.0"/>
<path class="b" d="M130.7 602.5 A19 19 0 0 1 162.9 602.5 M130.2 620 A19 19 0 0 0 163.4 620"/>
<rect class="l"  x="117.6" y="616.8" width="8.8" height="5.8"/>
<path class="f"  d="M140.9 620.9 L149.7 620.3 L150.3 623.2 L140.9 623.8Z"/>
<path class="l"  d="M138.0 622.3 L154.1 621.8"/>
<rect class="f"  x="168.7" y="561.9" width="10.2" height="5.3"/>
<rect class="f"  x="195.0" y="559.9" width="13.1" height="5.0"/>
<path class="w" stroke="none" d="M197.9 561.3 L201.7 561.3 L200.8 563.6 L197.9 563.6ZM203.1 561.3 L206.1 561.3 L206.1 563.6 L202.3 563.6Z"/>
<rect class="l"  x="222.7" y="550.2" width="7.3" height="4.7"/>
<path class="l"  d="M168.7 571.5 L234.4 566.0M167.2 573.6 L234.4 568.3M167.2 573.6 L168.7 571.5"/>
<rect class="f"  x="202.3" y="568.9" width="4.4" height="2.3"/>
<path class="b"  d="M187.7 543.8 L187.7 553.1M183.3 548.2 L192.0 548.2"/>
<circle class="f"  cx="187.7" cy="548.2" r="1.2"/>
<path class="b"  d="M190.6 668.8 L190.6 678.1M186.2 673.7 L195.0 673.7"/>
<rect class="f" x="102.8" y="573.7" width="5" height="2.6" rx="1" transform="rotate(-22 105.3 575.0)"/>
<rect class="f" x="137.9" y="565.9" width="5" height="2.6" rx="1" transform="rotate(-15 140.4 567.2)"/>
<rect class="f" x="104.9" y="645.6" width="5" height="2.6" rx="1" transform="rotate(22 107.4 646.9)"/>
<rect class="f" x="139.9" y="655.8" width="5" height="2.6" rx="1" transform="rotate(15 142.4 657.1)"/>
<rect class="f"  x="171.6" y="656.2" width="8.8" height="4.4"/>
<path class="w" stroke="none" d="M173.6 657.1 L176.0 657.1 L176.0 659.4 L173.6 659.4Z"/>
<rect class="f"  x="196.4" y="657.7" width="14.6" height="5.3"/>
<path class="w" stroke="none" d="M198.8 659.1 L202.3 659.1 L202.3 661.5 L198.8 661.5ZM204.6 659.1 L208.7 659.1 L208.7 661.5 L204.6 661.5Z"/>
<rect class="l" x="212.5" y="665" width="12.5" height="5" rx="1.5"/>
<path class="b"  d="M375.4 585.5 L266.5 585.5 L266.5 636.4 L375.4 636.4M269.4 585.5 L269.4 636.4"/>
<path class="l"  d="M230.0 607.4 L266.5 606.9M230.0 616.2 L266.5 615.6"/>
<path class="f"  d="M231.5 608.6 L241.7 608.0 L241.7 614.5 L231.5 615.0Z"/>
<path class="w" stroke="none" d="M234.4 610.4 L238.8 610.1 L238.8 612.7 L234.4 613.0Z"/>
<path class="b"  d="M264.5 608.6 L264.5 614.5"/>
<ellipse class="b" cx="389" cy="611" rx="25" ry="25.4" stroke-width="1.6"/>
<path class="b"  d="M386.2 586.4 L386.2 635.8"/>
<path class="b" d="M410.5 589.6 H457 M410.5 631 H457"/>
<path class="b"  d="M310.3 597.8 L367.2 597.8M310.3 603.6 L367.2 603.6M310.3 597.8 L310.3 603.6M322.0 597.8 L322.0 603.6"/>
<rect class="f" opacity=".75" x="345.3" y="598.7" width="21.9" height="4.1"/>
<rect class="f"  x="365.8" y="596.4" width="11.7" height="8.8"/>
<path class="w" stroke="none" d="M367.8 597.8 L370.7 597.8 L370.7 603.6 L367.8 603.6ZM372.5 597.8 L375.4 597.8 L375.4 603.6 L372.5 603.6Z"/>
<path class="b"  d="M310.3 618.2 L367.2 618.2M310.3 625.0 L367.2 625.0M310.3 618.2 L310.3 625.0M322.0 618.2 L322.0 625.0"/>
<rect class="f" opacity=".75" x="345.3" y="619.1" width="21.9" height="5.0"/>
<rect class="f"  x="365.8" y="616.8" width="11.7" height="9.6"/>
<path class="w" stroke="none" d="M367.8 618.2 L370.7 618.2 L370.7 625.0 L367.8 625.0ZM372.5 618.2 L375.4 618.2 L375.4 625.0 L372.5 625.0Z"/>
<ellipse class="b" cx="365.5" cy="611" rx="3" ry="5.5"/>
<rect class="f"  x="401.7" y="585.5" width="5.8" height="9.3"/>
<rect class="f"  x="401.7" y="627.0" width="5.8" height="9.3"/>
<path class="w" stroke="none" d="M403.1 587.6 L406.1 587.6 L406.1 592.8 L403.1 592.8ZM403.1 629.1 L406.1 629.1 L406.1 634.3 L403.1 634.3Z"/>
<path class="f"  d="M400.8 604.5 L408.1 604.5 L411.6 608.0 L411.6 614.5 L408.1 617.4 L400.8 617.4 L397.6 614.5 L397.6 608.0Z"/>
<path class="w" stroke="none" d="M402.3 607.4 L406.9 607.4 L406.9 614.5 L402.3 614.5Z"/>
<rect class="f"  x="403.4" y="608.9" width="2.3" height="4.4"/>
<rect class="f"  x="402.3" y="594.9" width="4.7" height="9.6"/>
<rect class="f"  x="402.3" y="617.4" width="4.7" height="9.6"/>
<path class="w" stroke="none" d="M403.4 596.9 L405.8 596.9 L405.8 599.3 L403.4 599.3ZM403.4 601.0 L405.8 601.0 L405.8 603.4 L403.4 603.4ZM403.4 619.1 L405.8 619.1 L405.8 621.5 L403.4 621.5ZM403.4 623.2 L405.8 623.2 L405.8 625.5 L403.4 625.5Z"/>
<path class="b"  d="M275.3 593.4 L284.0 592.8 L285.5 594.3 L300.1 594.3 L300.1 597.2 L285.5 597.2 L284.0 598.7 L275.3 598.1 L275.3 593.4M297.7 590.5 L297.7 601.0M295.7 595.8 L301.5 595.8"/>
<rect class="f"  x="278.2" y="594.0" width="5.0" height="3.5"/>
<path class="b"  d="M275.3 622.6 L284.0 622.0 L285.5 623.5 L300.1 623.5 L300.1 626.4 L285.5 626.4 L284.0 627.9 L275.3 627.3 L275.3 622.6M297.7 619.7 L297.7 630.2M295.7 625.0 L301.5 625.0"/>
<rect class="f"  x="278.2" y="623.2" width="5.0" height="3.5"/>
<path class="b"  d="M346.8 525.7 L346.8 585.5M319.1 636.4 L319.1 688.3"/>
<path class="l"  d="M339.5 567.2 L346.8 567.2M339.5 567.2 L339.5 584.7M342.4 567.2 L342.4 584.7M307.4 654.7 L317.6 654.7M307.4 662.0 L317.6 662.0M307.4 654.7 L307.4 662.0"/>
<path class="b"  d="M288.4 530.7 L345.3 521.0 L354.1 520.4 L355.0 527.7 L346.8 529.2 L289.9 536.8 L288.4 530.7M326.4 524.2 L327.8 530.9M336.6 522.8 L338.0 529.8"/>
<path class="f" opacity=".8" d="M298.6 529.8 L324.9 525.7 L325.8 529.2 L299.5 533.6Z"/>
<path class="b"  d="M260.7 680.4 L268.0 678.7 L326.4 688.3 L325.8 696.2 L317.6 695.0 L262.1 686.3 L260.7 680.4M268.0 678.7 L268.8 686.9M300.1 683.9 L299.5 692.1M317.6 687.4 L317.0 695.0"/>
<path class="f" opacity=".75" d="M270.9 682.5 L298.6 686.9 L298.0 689.8 L270.9 685.1ZM306.5 686.3 L316.4 688.0 L315.8 693.9 L305.9 692.1Z"/>
<path class="l" stroke="#333" d="M230.0 566.3 L346.8 558.4M230.0 568.6 L346.8 561.3"/>
<path class="l"  d="M316.1 554.0 L317.6 552.0 L330.7 552.0 L332.8 554.9 L330.7 558.4 L326.4 566.6 L320.5 565.7 L317.6 559.9 L316.1 554.0"/>
<path class="f" opacity=".6" d="M323.4 558.4 L346.8 557.8 L346.8 561.3 L324.9 562.5Z"/>
<rect class="f"  x="377.4" y="529.2" width="10.2" height="5.3"/>
<rect class="f"  x="380.4" y="685.4" width="10.2" height="4.4"/>
<rect class="f"  x="408.1" y="693.6" width="7.3" height="3.8"/>
<path class="b"  d="M405.2 523.4 L409.6 529.2 L416.9 523.9M409.6 529.2 L412.5 524.8"/>
<rect class="l"  x="230.0" y="549.6" width="6.4" height="4.4"/>
</g>
<g id="plan3">
<path class="b" stroke-width="1.4" d="M434.2 531.5 A25.5 25 0 1 1 434.2 567.7"/><path class="b"  d="M448.2 525.7 L448.2 573.6"/><rect class="f"  x="462.8" y="523.9" width="5.8" height="51.4"/><path class="f"  d="M460.4 543.8 L465.7 542.3 L471.8 543.8 L473.6 549.6 L471.8 555.5 L465.7 556.9 L460.4 555.5 L458.4 549.6Z"/><path class="w" stroke="none" d="M462.8 545.8 L469.5 545.8 L469.5 553.1 L462.8 553.1ZM464.2 526.3 L467.2 526.3 L467.2 533.6 L464.2 533.6ZM464.2 565.7 L467.2 565.7 L467.2 573.0 L464.2 573.0ZM464.2 535.6 L467.2 535.6 L467.2 540.3 L464.2 540.3ZM464.2 559.0 L467.2 559.0 L467.2 563.6 L464.2 563.6Z"/><rect class="f"  x="464.8" y="547.3" width="2.9" height="4.4"/><path class="b" stroke-width="1.3" d="M405.3 535.3 L428.6 535.3M405.3 541.2 L428.6 541.2"/><rect class="f" opacity=".55" x="405.3" y="536.8" width="23.4" height="2.9"/><rect class="f"  x="427.7" y="533.6" width="12.6" height="9.3"/><path class="w" stroke="none" d="M429.8 535.3 L433.0 535.3 L433.0 541.2 L429.8 541.2ZM435.0 535.3 L438.2 535.3 L438.2 541.2 L435.0 541.2Z"/><path class="b" stroke-width="1.3" d="M405.3 556.6 L428.6 556.6M405.3 562.5 L428.6 562.5"/><rect class="f" opacity=".55" x="405.3" y="558.1" width="23.4" height="2.9"/><rect class="f"  x="427.7" y="554.9" width="12.6" height="9.3"/><path class="w" stroke="none" d="M429.8 556.6 L433.0 556.6 L433.0 562.5 L429.8 562.5ZM435.0 556.6 L438.2 556.6 L438.2 562.5 L435.0 562.5Z"/><path class="l"  d="M429.2 543.8 L425.7 546.1 L426.3 552.6 L429.2 554.9M452.6 567.2 L455.5 570.7"/>
<path class="b" stroke-width="1.4" d="M434.2 654.2 A25.5 25 0 1 1 434.2 690.4"/><path class="b"  d="M448.2 648.3 L448.2 696.2"/><rect class="f"  x="462.8" y="646.6" width="5.8" height="51.4"/><path class="f"  d="M460.4 666.4 L465.7 665.0 L471.8 666.4 L473.6 672.3 L471.8 678.1 L465.7 679.6 L460.4 678.1 L458.4 672.3Z"/><path class="w" stroke="none" d="M462.8 668.5 L469.5 668.5 L469.5 675.8 L462.8 675.8ZM464.2 648.9 L467.2 648.9 L467.2 656.2 L464.2 656.2ZM464.2 688.3 L467.2 688.3 L467.2 695.6 L464.2 695.6ZM464.2 658.2 L467.2 658.2 L467.2 662.9 L464.2 662.9ZM464.2 681.6 L467.2 681.6 L467.2 686.3 L464.2 686.3Z"/><rect class="f"  x="464.8" y="669.9" width="2.9" height="4.4"/><path class="b" stroke-width="1.3" d="M405.3 658.0 L428.6 658.0M405.3 663.8 L428.6 663.8"/><rect class="f" opacity=".55" x="405.3" y="659.4" width="23.4" height="2.9"/><rect class="f"  x="427.7" y="656.2" width="12.6" height="9.3"/><path class="w" stroke="none" d="M429.8 658.0 L433.0 658.0 L433.0 663.8 L429.8 663.8ZM435.0 658.0 L438.2 658.0 L438.2 663.8 L435.0 663.8Z"/><path class="b" stroke-width="1.3" d="M405.3 679.3 L428.6 679.3M405.3 685.1 L428.6 685.1"/><rect class="f" opacity=".55" x="405.3" y="680.7" width="23.4" height="2.9"/><rect class="f"  x="427.7" y="677.5" width="12.6" height="9.3"/><path class="w" stroke="none" d="M429.8 679.3 L433.0 679.3 L433.0 685.1 L429.8 685.1ZM435.0 679.3 L438.2 679.3 L438.2 685.1 L435.0 685.1Z"/><path class="l"  d="M429.2 666.4 L425.7 668.8 L426.3 675.2 L429.2 677.5M452.6 689.8 L455.5 693.3"/>
<path class="b" stroke-width="1.4" d="M457 588.6 L494.9 567.7 H528.5 A15.5 11 0 0 1 559.1 567.7 H595.6 V654.7 H559.1 A15.5 11 0 0 1 528.5 654.7 H494.9 L457 631.8"/>
<path class="l" stroke-dasharray="4 2" d="M496.4 569.5 L594.2 569.5M496.4 652.7 L594.2 652.7"/>
<circle class="b"  cx="432.1" cy="609.5" r="11.8"/>
<path class="b" d="M438.9 598.7 L457 589.1 M438.9 623.1 L457 631 M438.9 598.7 Q443.5 610.5 438.9 623.1"/><path class="l" stroke-dasharray="3 1.5" d="M449.5 593 V628"/>
<path class="f"  d="M428.6 605.1 L435.6 605.1 L435.6 612.4 L428.6 612.4Z"/>
<circle class="w" stroke="none" cx="432.1" cy="608.6" r="1.2"/>
<path class="b"  d="M424.8 613.3 L439.4 613.3M432.1 613.3 L432.1 616.8"/>
<circle class="B" stroke-width="2.2" cx="471.5" cy="610.4" r="16.6"/>
<circle class="b"  cx="471.5" cy="610.4" r="12.2"/>
<circle class="b"  cx="471.5" cy="610.4" r="3.0"/>
<path class="B" stroke-width="2" d="M458.4 630.8 L487.6 584.7M455.5 589.1 L487.6 637.8"/>
<path class="b"  d="M487.6 584.7 L494.9 579.4M487.6 637.8 L495.8 640.7"/>
<path class="b" stroke-width="1.8" d="M500.7 593.4 L494.9 593.4 L494.9 628.5 L500.7 628.5M500.7 592.0 L500.7 597.8M500.7 624.1 L500.7 629.9"/>
<ellipse class="f" cx="494.9" cy="579.4" rx="4.6" ry="3.6"/>
<circle class="w" stroke="none" cx="493.7" cy="579.4" r="1.0"/>
<ellipse class="f" cx="496.4" cy="640.7" rx="4.6" ry="3.6"/>
<circle class="w" stroke="none" cx="495.2" cy="640.7" r="1.0"/>
<rect class="b"  x="505.1" y="607.4" width="5.8" height="7.0"/>
<rect class="f"  x="517.4" y="605.7" width="4.7" height="4.7"/>
<path class="b" stroke-width="1.6" d="M525.5 596.4 L553.3 596.4 L553.3 600.7 L538.7 600.7 L538.7 621.2 L553.3 621.2 L553.3 625.5 L525.5 625.5 L525.5 596.4"/>
<rect class="f"  x="538.7" y="605.7" width="13.1" height="7.0"/>
<path class="w" stroke="none" d="M540.7 607.4 L545.4 607.4 L545.4 610.9 L540.7 610.9Z"/>
<rect class="b"  x="583.4" y="599.9" width="11.7" height="21.3"/>
<circle class="f"  cx="589.2" cy="616.2" r="1.8"/>
<path class="f"  d="M539.6 568.6 L546.6 568.6 L547.2 573.0 L544.5 576.8 L540.7 575.9 L539.0 572.1Z"/>
<circle class="w" stroke="none" cx="543.1" cy="572.1" r="1.0"/>
<path class="l"  d="M536.6 568.6 L549.5 568.6"/>
<path class="f"  d="M539.6 644.5 L546.6 644.5 L547.2 648.9 L544.5 652.7 L540.7 651.8 L539.0 648.0Z"/>
<circle class="w" stroke="none" cx="543.1" cy="648.0" r="1.0"/>
<path class="l"  d="M536.6 644.5 L549.5 644.5"/>
<path class="b"  d="M574.6 578.2 L587.4 578.2M581.0 575.3 L581.0 581.2"/>
<circle class="f"  cx="581.0" cy="578.2" r="1.6"/>
<path class="b"  d="M576.1 643.1 L588.9 643.1M582.5 640.1 L582.5 646.0"/>
<circle class="f"  cx="582.5" cy="643.1" r="1.6"/>
<rect class="f"  x="508.0" y="562.8" width="8.8" height="4.4"/>
<rect class="f"  x="573.7" y="561.3" width="10.2" height="5.3"/>
<rect class="f"  x="563.5" y="659.1" width="11.7" height="4.4"/>
<rect class="f"  x="446.7" y="585.5" width="8.8" height="3.5"/>
<rect class="f"  x="405.8" y="693.3" width="8.8" height="3.8"/>
<rect class="f"  x="494.9" y="701.5" width="5.8" height="2.3"/>
<rect class="f"  x="492.0" y="516.1" width="5.8" height="2.0"/>
<rect class="f" x="560.9" y="530.7" width="8" height="7.6" rx="2.6"/>
<path class="w" stroke="none" d="M563.2 532.7 L565.5 532.7 L565.5 536.2 L563.2 536.2Z"/>
<path class="b"  d="M564.4 531.5 L564.4 537.4"/>
<rect class="f" x="562.9" y="680.1" width="8" height="7.6" rx="2.6"/>
<path class="w" stroke="none" d="M565.3 682.2 L567.6 682.2 L567.6 685.7 L565.3 685.7Z"/>
<path class="b"  d="M566.4 681.0 L566.4 686.9"/>
<rect class="f" x="489.3" y="670.8" width="8" height="7.6" rx="2.6"/>
<path class="w" stroke="none" d="M491.7 672.8 L494.0 672.8 L494.0 676.4 L491.7 676.4Z"/>
<path class="b"  d="M492.8 671.7 L492.8 677.5"/>
<rect class="f" x="530.8" y="670.8" width="8" height="7.6" rx="2.6"/>
<path class="w" stroke="none" d="M533.1 672.8 L535.5 672.8 L535.5 676.4 L533.1 676.4Z"/>
<path class="b"  d="M534.3 671.7 L534.3 677.5"/>
<path class="l"  d="M578.1 654.7 L578.1 665.0 L595.6 665.0M575.2 562.8 L592.7 558.4 L592.7 545.3 L600.0 545.3M594.2 659.1 L600.0 657.7M594.2 659.1 L594.2 672.3 L600.0 673.7"/>
<path class="b"  d="M583.4 500.0 L583.4 512.3M579.6 508.8 L586.9 508.8"/>
</g>
<g id="plan4">
<path class="b" d="M577.3 494.5 C585 487 595 484.2 606 484.2 C618 484.2 628 487.5 634.3 493 C628 500.5 617 502.5 606 502.5 C594 502.5 584 500 577.3 494.5Z"/>
<path class="h" stroke="#333" stroke-width=".8" d="M586.0 488.7 V498.9M589.4 487.6 V499.8M592.8 486.8 V500.5M596.2 486.3 V501.0M599.6 486.0 V501.4M603.0 485.8 V501.5M606.4 485.7 V501.6M609.8 485.8 V501.5M613.2 486.0 V501.3M616.6 486.4 V500.9M620.0 487.0 V500.4M623.4 487.8 V499.6M626.8 489.0 V498.6"/>
<path class="l" d="M582.5 499 V511 M630.5 499 L632.5 510"/>
<path class="b" d="M593.5 546.3 C601.8 543.8 614.2 542.6 635.0 542.8 C659.8 543.2 673.1 548.5 676.4 554.3 C673.1 560.1 659.8 565.4 635.0 565.8 C614.2 566.0 601.8 564.8 593.5 562.3 Z"/>
<path class="b" d="M595.0 659.0 C603.5 656.5 616.4 655.3 637.8 655.5 C663.4 655.9 677.1 661.2 680.5 667.0 C677.1 672.8 663.4 678.1 637.8 678.5 C616.4 678.7 603.5 677.5 595.0 675.0 Z"/>
<path class="h" stroke="#333" stroke-dasharray="3 2" d="M595 548.5 H672 M597 673 H676"/>
<path class="b" d="M682.1 548.3 C691.7 545.8 706.1 544.6 730.2 544.8 C759.1 545.2 774.5 550.8 778.3 556.8 C774.5 562.8 759.1 568.4 730.2 568.8 C706.1 569.0 691.7 567.8 682.1 565.3 Z"/>
<path class="b" d="M682.1 600.9 C691.9 598.4 706.5 597.2 731.0 597.4 C760.3 597.8 776.0 603.8 779.9 610.4 C776.0 617.0 760.3 623.0 731.0 623.4 C706.5 623.6 691.9 622.4 682.1 619.9 Z"/>
<path class="b" d="M682.1 656.0 C691.7 653.5 706.1 652.3 730.2 652.5 C759.1 652.9 774.5 658.5 778.3 664.5 C774.5 670.5 759.1 676.1 730.2 676.5 C706.1 676.7 691.7 675.5 682.1 673.0 Z"/>
<path class="b" d="M682.1 573.3 C700 571 735 571.5 756 575 C764 578 766 582 756 586.5 C740 591 715 592 700 590.5"/>
<path class="b" d="M682.1 646.5 C700 649 735 648.5 756 645 C764 642 766 638 756 633.5 C740 629 715 628 700 629.5"/>
<path class="h" stroke="#333" stroke-dasharray="3 2" d="M684 549.5 H705 C712 560 745 560 752 549.5 H774 M684 671.5 H705 C712 661 745 661 752 671.5 H774"/>
<ellipse class="B" cx="650.5" cy="610.6" rx="30.5" ry="21" stroke-width="1.6"/><ellipse class="b" cx="650.5" cy="610.6" rx="27" ry="18" stroke-width="1.3"/>
<path class="b" d="M655 593.5 C646 596 641 603 641 610.6 C641 618 646 625 655 628"/>
<path class="b" stroke-width="1.1" d="M626.5 602.6 V618.6M629.4 599.7 V621.5M632.3 597.7 V623.5M635.2 596.2 V625.0M638.1 595.1 V626.1M641.0 594.2 V627.0M643.9 593.6 V627.6M646.8 593.3 V627.9M649.7 593.1 V628.1M652.6 593.2 V628.0"/>
<path class="b" stroke-dasharray="1.5 1.5" d="M657 610.6 H672"/>
<path class="b" d="M641.8 589 H664 V592 M641.8 632.5 H664 V629.5 M641.8 586 V592 M641.8 629.5 V635.5"/>
<path class="b" d="M596.9 568 V653 M603.8 580 Q603.8 575.3 608 575.3 H641 Q645.3 575.3 645.3 580 V590 M645.3 631 V641.5 Q645.3 645.8 641 645.8 H608 Q603.8 645.8 603.8 641.5 V628 M603.8 580 V593 M603.8 593 C612 596 616 600 616 610.6 C616 621 612 625 603.8 628"/>
<rect class="b" x="610.2" y="579.9" width="8" height="7.4" rx="1.5"/><circle class="f" cx="614.2" cy="583.6" r="1.5"/>
<rect class="b" x="630.9" y="579.9" width="8" height="7.4" rx="1.5"/><circle class="f" cx="634.9" cy="583.6" r="1.5"/>
<rect class="b" x="610.2" y="633.5" width="8" height="7.4" rx="1.5"/><circle class="f" cx="614.2" cy="637.2" r="1.5"/>
<rect class="b" x="630.9" y="633.5" width="8" height="7.4" rx="1.5"/><circle class="f" cx="634.9" cy="637.2" r="1.5"/>
<path class="b" d="M605.5 603 V618 H609 V603Z"/>
<rect class="l"  x="588.3" y="599.2" width="5.9" height="20.7"/>
<rect class="f"  x="648.7" y="568.1" width="8.6" height="10.4"/>
<rect class="f"  x="676.4" y="568.1" width="8.6" height="8.6"/>
<rect class="f"  x="648.7" y="642.3" width="10.4" height="10.4"/>
<rect class="f"  x="676.4" y="644.1" width="8.6" height="8.6"/>
<rect class="f"  x="755.8" y="569.8" width="6.9" height="6.9"/>
<rect class="f"  x="755.8" y="645.1" width="6.9" height="6.9"/>
<rect class="f"  x="600.4" y="568.1" width="5.2" height="4.5"/>
<rect class="f"  x="614.2" y="570.5" width="10.4" height="2.8"/>
<rect class="f"  x="600.4" y="648.6" width="5.2" height="3.5"/>
<rect class="f"  x="614.2" y="647.5" width="10.4" height="2.8"/>
<rect class="f"  x="672.9" y="543.9" width="6.2" height="3.5"/>
<rect class="f"  x="674.6" y="673.4" width="6.9" height="4.1"/>
<rect class="f"  x="697.1" y="498.0" width="5.2" height="2.8"/>
<rect class="f"  x="698.8" y="717.7" width="5.2" height="2.8"/>
<path class="w" stroke="none" d="M650.8 570.5 L654.9 570.5 L654.9 576.0 L650.8 576.0ZM678.4 569.8 L682.6 569.8 L682.6 574.6 L678.4 574.6ZM678.1 646.1 L682.6 646.1 L682.6 650.6 L678.1 650.6Z"/>
<path class="b" d="M664.3 592.5 L776.7 579.5 M664.3 595.8 L777 583 M664.3 625.2 L778.3 638.3 M664.3 628.6 L778 641.5"/>
<path class="b" stroke-width="1.4" d="M738.5 512.3 H713.7 Q705.7 512.3 705.7 520.3 V532.5 Q705.7 540.5 713.7 540.5 H738.5"/><path class="b" d="M718.7 512.3 V540.5 M734.5 512.3 V540.5"/><rect class="b" x="708.7" y="527.4" width="4.4" height="4.4"/><path class="f" d="M734.5 517.3 h9 v18.2 h-9z"/><path class="b" d="M742.5 522.7 h26 M742.5 525.1 h26 M742.5 527.9 h26 M742.5 530.3 h26"/>
<path class="b" stroke-width="1.4" d="M738.5 679.0 H713.7 Q705.7 679.0 705.7 687.0 V699.5 Q705.7 707.5 713.7 707.5 H738.5"/><path class="b" d="M718.7 679.0 V707.5 M734.5 679.0 V707.5"/><rect class="b" x="708.7" y="694.2" width="4.4" height="4.4"/><path class="f" d="M734.5 684.0 h9 v18.5 h-9z"/><path class="b" d="M742.5 689.2 h26 M742.5 691.6 h26 M742.5 694.4 h26 M742.5 696.8 h26"/>
<rect class="f" x="639.4" y="521.8" width="9" height="7.6" rx="2.6"/>
<path class="w" stroke="none" d="M641.8 523.5 L644.6 523.5 L644.6 527.7 L641.8 527.7Z"/>
<rect class="f" x="641.1" y="688.6" width="9" height="7.6" rx="2.6"/>
<path class="w" stroke="none" d="M643.5 690.4 L646.3 690.4 L646.3 694.5 L643.5 694.5Z"/>
<path class="l"  d="M652.2 517.3 L659.1 509.4M648.7 520.8 L653.9 518.7"/>
<circle class="f"  cx="623.5" cy="523.2" r="0.8"/>
<rect class="b"  x="743.7" y="502.5" width="10.4" height="5.2"/>
<rect class="f"  x="746.1" y="503.5" width="4.5" height="3.1"/>
<rect class="b"  x="745.4" y="712.1" width="11.1" height="5.5"/>
<rect class="f"  x="748.2" y="713.2" width="4.8" height="3.5"/>
</g>
<g id="plan5">
<path class="f"  d="M776.2 573.4 L783.2 571.2 L794.3 576.0 L795.9 583.9 L789.6 590.3 L780.0 588.7Z"/>
<path class="w" stroke="none" d="M781.6 577.6 L788.0 576.0 L789.6 583.0 L783.2 585.5Z"/>
<path class="b"  d="M780.0 573.4 L791.1 587.1M784.8 572.2 L794.3 582.4"/>
<path class="b"  d="M778.4 639.7 L776.2 634.9 L786.4 630.1 L794.3 633.9 L791.1 642.9 L783.2 643.5Z"/>
<path class="f"  d="M783.2 634.9 L789.6 633.3 L791.1 639.7 L785.7 641.3Z"/>
<path class="b" stroke-width="1.3" d="M792.1 639.7 L756.1 709.7M794.6 641.6 L759.0 710.4"/>
<path class="b" stroke-width="1.3" d="M789.6 591.9 L791.1 585.5 L827.8 583.9 L851.7 593.5 L856.4 596.7 L856.4 623.8 L851.7 626.9 L827.8 636.5 L791.1 634.9 L789.6 628.5 L789.6 591.9"/>
<path class="b"  d="M837.3 547.3 L837.3 576.0M852.6 576.0 L852.6 595.1M837.3 646.1 L837.3 671.5M845.3 630.1 L848.5 642.9"/>
<path class="b" stroke-width="1.3" d="M872.4 610.4 C872.4 605.9 872.8 600.0 874.9 596.7 C877.0 593.3 881.3 591.0 885.1 590.3 C888.9 589.6 894.6 591.5 897.8 592.5 C901.0 593.6 900.5 595.2 904.2 596.7 C907.9 598.2 917.2 599.2 920.1 601.5 C923.0 603.7 921.7 607.3 921.7 610.4 C921.7 613.5 923.0 617.4 920.1 619.9 C917.2 622.4 907.9 623.9 904.2 625.4 C900.5 626.8 901.0 627.6 897.8 628.5 C894.6 629.4 888.9 631.6 885.1 630.8 C881.3 630.0 877.0 627.2 874.9 623.8 C872.8 620.4 872.4 614.9 872.4 610.4Z"/>
<circle class="f"  cx="883.5" cy="610.4" r="5.6"/>
<circle class="w" stroke="none" cx="883.5" cy="610.4" r="2.2"/>
<rect class="f"  x="881.3" y="608.5" width="4.5" height="3.8"/>
<path class="b"  d="M875.5 598.3 L891.5 622.2M875.5 622.2 L891.5 598.3M883.5 591.9 L883.5 630.1M873.9 610.4 L894.6 610.4"/>
<rect class="f"  x="863.4" y="598.3" width="7.3" height="23.9"/>
<path class="w" stroke="none" d="M865.4 601.5 L869.2 601.5 L869.2 604.6 L865.4 604.6ZM865.4 607.8 L869.2 607.8 L869.2 612.6 L865.4 612.6ZM865.4 615.8 L869.2 615.8 L869.2 619.9 L865.4 619.9Z"/>
<rect class="f"  x="907.4" y="606.2" width="6.4" height="8.6"/>
<path class="b"  d="M859.6 583.9 L870.8 588.7M859.6 636.5 L870.8 631.7"/>
<path class="b" stroke-width="1.2" d="M892.5 501.6 L938.5 530.0M889.3 718.8 L938.5 690.5"/>
<path class="b"  d="M921.7 601.5 L932.9 582.4M921.7 620.6 L932.9 639.7"/>
<path class="b" stroke-width="1.2" d="M938.3 563.9 L953.6 563.9 L953.6 583.0 L966.3 583.0M938.3 563.9 L938.3 582.4 L932.9 585.5 L930.3 610.4 L932.9 636.5 L938.3 639.7 L938.3 657.2 L953.6 657.2 L953.6 638.1 L966.3 638.1"/>
<rect class="f"  x="928.1" y="603.1" width="4.8" height="14.3"/>
<ellipse class="b" cx="940" cy="610.4" rx="5" ry="3.2"/>
<path class="b"  d="M789.3 518.9 C792.7 520.0 803.1 522.7 809.8 525.5 C816.6 528.4 824.0 532.8 829.8 536.2 C835.5 539.5 841.0 543.0 844.4 545.5 C847.7 547.9 849.0 549.9 849.9 550.8"/><path class="b"  d="M785.9 528.2 C788.8 530.2 797.0 536.4 803.2 540.2 C809.4 543.9 817.6 548.3 823.1 550.8 C828.7 553.2 832.9 554.1 836.4 554.8 C839.9 555.5 842.1 555.7 844.4 555.0 C846.6 554.4 849.0 551.5 849.9 550.8"/><path class="b"  d="M789.3 518.9 C788.7 520.5 786.5 526.7 785.9 528.2"/>
<path class="b"  d="M842.4 518.9 C845.8 520.9 856.2 526.2 863.0 530.9 C869.7 535.5 877.1 541.7 882.9 546.8 C888.6 551.9 893.9 556.8 897.5 561.4 C901.1 566.0 903.2 572.5 904.4 574.7"/><path class="b"  d="M835.1 527.5 C837.5 529.4 843.9 533.8 849.7 538.8 C855.4 543.8 863.4 551.9 869.6 557.4 C875.8 563.0 882.2 568.9 886.9 572.0 C891.5 575.2 894.6 575.8 897.5 576.3 C900.4 576.7 903.2 574.9 904.4 574.7"/><path class="b"  d="M842.4 518.9 C841.2 520.3 836.3 526.1 835.1 527.5"/>
<path class="b"  d="M885.5 522.9 C888.4 524.2 896.6 527.5 902.8 530.9 C909.0 534.2 916.3 538.4 922.7 542.8 C929.1 547.2 937.9 553.4 941.3 557.4 C944.7 561.4 943.0 565.2 943.3 566.7"/><path class="b"  d="M876.2 534.2 C879.6 536.7 889.5 544.2 896.2 549.4 C902.8 554.7 909.9 560.7 916.1 565.4 C922.3 570.0 928.8 577.1 933.3 577.3 C937.9 577.6 941.6 568.5 943.3 566.7"/><path class="b"  d="M885.5 522.9 C884.0 524.8 877.8 532.3 876.2 534.2"/>
<path class="l"  d="M845.0 560.1 C844.1 557.9 847.1 557.2 849.7 557.4 C852.2 557.6 857.3 559.4 860.3 561.4 C863.3 563.4 866.8 567.4 867.6 569.4 C868.4 571.4 867.1 573.1 865.0 573.4 C862.9 573.6 858.3 572.9 855.0 570.7 C851.7 568.5 845.9 562.3 845.0 560.1Z"/>
<path class="l"  d="M770.0 504.3 C776.6 504.2 796.6 502.5 809.8 503.6 C823.1 504.7 837.5 507.6 849.7 510.9 C861.9 514.3 877.3 521.4 882.9 523.6"/>
<path class="l"  d="M770.0 518.9 C773.3 518.6 782.2 516.8 789.9 516.9 C797.7 517.0 807.8 517.7 816.5 519.6 C825.1 521.4 837.5 526.8 841.7 528.2"/>
<path class="l"  d="M807.2 504.3 C810.3 505.2 820.0 507.3 825.8 509.6 C831.5 511.9 839.1 516.8 841.7 518.2"/>
<path class="l"  d="M825.8 553.4 C828.9 555.2 838.2 560.3 844.4 564.1 C850.6 567.8 854.8 573.1 863.0 576.0 C871.2 578.9 888.4 580.4 893.5 581.3"/>
<path class="h" stroke-dasharray="3 1.5" stroke="#333" d="M844.4 528.2 C848.8 531.5 863.4 541.3 870.9 548.1 C878.5 555.0 886.4 565.8 889.5 569.4"/>
<path class="h" stroke-dasharray="3 1.5" stroke="#333" d="M886.9 533.5 C890.6 535.9 902.4 542.6 909.4 548.1 C916.5 553.7 926.0 563.6 929.4 566.7"/>
<path class="b"  d="M789.3 700.5 C792.7 699.4 803.1 696.7 809.8 693.9 C816.6 691.0 824.0 686.6 829.8 683.2 C835.5 679.9 841.0 676.4 844.4 673.9 C847.7 671.5 849.0 669.5 849.9 668.6"/><path class="b"  d="M785.9 691.2 C788.8 689.2 797.0 683.0 803.2 679.2 C809.4 675.5 817.6 671.1 823.1 668.6 C828.7 666.2 832.9 665.3 836.4 664.6 C839.9 663.9 842.1 663.7 844.4 664.4 C846.6 665.0 849.0 667.9 849.9 668.6"/><path class="b"  d="M789.3 700.5 C788.7 698.9 786.5 692.7 785.9 691.2"/>
<path class="b"  d="M842.4 700.5 C845.8 698.5 856.2 693.2 863.0 688.5 C869.7 683.9 877.1 677.7 882.9 672.6 C888.6 667.5 893.9 662.6 897.5 658.0 C901.1 653.4 903.2 646.9 904.4 644.7"/><path class="b"  d="M835.1 691.9 C837.5 690.0 843.9 685.6 849.7 680.6 C855.4 675.6 863.4 667.5 869.6 662.0 C875.8 656.4 882.2 650.5 886.9 647.4 C891.5 644.2 894.6 643.6 897.5 643.1 C900.4 642.7 903.2 644.5 904.4 644.7"/><path class="b"  d="M842.4 700.5 C841.2 699.1 836.3 693.3 835.1 691.9"/>
<path class="b"  d="M885.5 696.5 C888.4 695.2 896.6 691.9 902.8 688.5 C909.0 685.2 916.3 681.0 922.7 676.6 C929.1 672.2 937.9 666.0 941.3 662.0 C944.7 658.0 943.0 654.2 943.3 652.7"/><path class="b"  d="M876.2 685.2 C879.6 682.7 889.5 675.2 896.2 670.0 C902.8 664.7 909.9 658.7 916.1 654.0 C922.3 649.4 928.8 642.3 933.3 642.1 C937.9 641.8 941.6 650.9 943.3 652.7"/><path class="b"  d="M885.5 696.5 C884.0 694.6 877.8 687.1 876.2 685.2"/>
<path class="l"  d="M770.0 715.1 C776.6 715.2 796.6 716.9 809.8 715.8 C823.1 714.7 837.5 711.8 849.7 708.5 C861.9 705.1 877.3 698.0 882.9 695.8"/>
<path class="l"  d="M770.0 700.5 C773.3 700.8 782.2 702.6 789.9 702.5 C797.7 702.4 807.8 701.7 816.5 699.8 C825.1 698.0 837.5 692.6 841.7 691.2"/>
<path class="l"  d="M807.2 715.1 C810.3 714.2 820.0 712.1 825.8 709.8 C831.5 707.5 839.1 702.6 841.7 701.2"/>
<path class="h" stroke-dasharray="3 1.5" stroke="#333" d="M844.4 691.2 C848.8 687.9 863.4 678.1 870.9 671.3 C878.5 664.4 886.4 653.6 889.5 650.0"/>
<path class="h" stroke-dasharray="3 1.5" stroke="#333" d="M886.9 685.9 C890.6 683.5 902.4 676.8 909.4 671.3 C916.5 665.7 926.0 655.8 929.4 652.7"/>
<path class="b"  d="M846.9 658.8 C845.3 656.7 847.9 652.0 851.7 649.2 C855.4 646.5 864.7 643.0 869.2 642.2 C873.7 641.4 877.7 642.5 878.7 644.5 C879.8 646.4 878.5 651.1 875.5 654.0 C872.6 656.9 866.0 661.2 861.2 662.0 C856.4 662.8 848.5 660.9 846.9 658.8Z"/>
<path class="b"  d="M863.4 674.7 C862.9 671.3 868.2 660.6 872.4 655.6 C876.5 650.6 884.5 645.8 888.3 644.5 C892.1 643.1 895.0 644.5 895.3 647.6 C895.6 650.8 893.2 658.8 889.9 663.6 C886.6 668.3 879.9 674.4 875.5 676.3 C871.1 678.2 864.0 678.2 863.4 674.7Z"/>
<path class="B"  d="M843.7 633.3 L879.4 665.8"/>
<path class="b"  d="M872.4 663.6 L881.3 661.3"/>
<rect class="f" x="882.2" y="506.9" width="9" height="7.6" rx="2.8"/>
<path class="w" stroke="none" d="M884.8 508.8 L887.3 508.8 L887.3 512.6 L884.8 512.6Z"/>
<rect class="f" x="883.8" y="704.3" width="9" height="7.6" rx="2.8"/>
<path class="w" stroke="none" d="M886.4 706.2 L888.9 706.2 L888.9 710.1 L886.4 710.1Z"/>
<path class="f" d="M926.9 496 L977.3 499.6 L977.3 506.2 L926.9 503.4Z M926.9 716.6 L977.3 713.8 L977.3 720.8 L926.9 723.6Z"/>
<path fill="#fff" d="M938 499.6 L958 501 L958 502.2 L938 500.8Z" opacity=".8"/>
<path class="l" d="M908.5 509.6 L918 499.2 L927 498.4 M907.7 709.2 L918 720.4 L927 720.4"/>
<path class="b"  d="M935.4 525.7 L939.2 517.1M938.0 526.3 L941.8 518.0M935.4 693.8 L939.2 702.7M938.0 693.2 L941.8 701.8"/>
<circle class="b"  cx="940.2" cy="517.4" r="1.3"/>
<path class="f"  d="M803.9 548.9 L811.8 545.7 L819.8 548.9 L821.4 555.3 L827.8 558.5 L818.2 560.7 L810.3 558.5 L802.3 559.4Z"/>
<path class="b"  d="M800.7 561.7 L827.8 555.3"/>
<path class="l" d="M814.9 665.2 L818.4 665.2M814.7 666.0 L817.5 668.1M813.9 666.6 L815.0 669.9M813.0 666.6 L811.9 669.9M812.2 666.0 L809.4 668.1M811.9 665.2 L808.4 665.2M812.2 664.3 L809.4 662.2M813.0 663.7 L811.9 660.4M813.9 663.7 L815.0 660.4M814.7 664.3 L817.5 662.2"/>
<path class="h" stroke-dasharray="3 2" stroke="#333" d="M799.1 657.2 L821.4 657.2M799.1 657.2 L799.1 673.1"/>
<rect class="f"  x="792.7" y="550.5" width="4.8" height="17.5"/>
<rect class="f"  x="792.7" y="652.4" width="4.8" height="17.5"/>
</g>
<g id="plan6">
<path class="b" stroke-width="1.2" d="M971.4 573.6 C971.1 576.9 969.7 584.7 969.3 593.8 C969.0 602.8 969.0 618.7 969.3 627.8 C969.7 636.8 971.1 644.6 971.4 648.0"/>
<path class="b"  d="M954.4 583.1 L1015.0 583.1M954.4 638.4 L1015.0 638.4M954.4 583.1 L952.3 579.9 L961.9 572.5M954.4 638.4 L952.3 642.2 L961.9 649.0"/>
<path class="b" stroke-width="1.6" d="M961.9 572.5 C964.4 571.3 971.4 566.1 976.8 565.1 C982.1 564.0 987.4 564.4 993.8 566.1 C1000.1 567.9 1009.9 572.4 1015.0 575.7 C1020.2 579.0 1023.0 584.0 1024.6 585.7"/>
<path class="b" stroke-width="1.6" d="M961.9 649.0 C964.4 650.2 971.4 654.8 976.8 655.8 C982.1 656.8 987.4 656.6 993.8 655.0 C1000.1 653.3 1009.9 649.0 1015.0 645.8 C1020.2 642.7 1023.0 637.9 1024.6 636.3"/>
<path class="l"  d="M964.0 575.7 C966.3 574.6 972.9 570.2 977.8 569.3 C982.8 568.4 988.1 568.8 993.8 570.4 C999.4 572.0 1007.4 576.1 1011.8 578.9 C1016.3 581.6 1018.9 585.6 1020.3 587.0"/>
<path class="l"  d="M964.0 645.8 C966.3 646.9 972.9 651.3 977.8 652.2 C982.8 653.1 988.1 652.7 993.8 651.1 C999.4 649.6 1007.4 645.7 1011.8 643.1 C1016.3 640.4 1018.9 636.5 1020.3 635.2"/>
<path class="b" stroke-width="1.4" d="M1024.6 585.7 C1025.4 587.7 1028.5 593.8 1029.5 598.0 C1030.4 602.2 1030.3 606.5 1030.3 610.8 C1030.3 615.0 1030.4 619.3 1029.5 623.5 C1028.5 627.8 1025.4 634.1 1024.6 636.3"/>
<path class="f" opacity=".85" d="M961.9 569.3 L967.2 567.8 L968.3 573.6 L962.9 575.1ZM961.9 652.2 L967.2 653.7 L968.3 648.0 L962.9 646.5ZM986.3 565.7 L993.8 566.1 L993.8 569.3 L986.3 568.9ZM986.3 655.8 L993.8 655.4 L993.8 652.2 L986.3 652.6ZM1009.7 571.4 L1014.0 570.0 L1016.1 575.7 L1011.8 577.2ZM1009.7 650.1 L1014.0 651.6 L1016.1 645.8 L1011.8 644.3Z"/>
<rect class="f"  x="1015.4" y="586.3" width="5.5" height="7.2"/>
<rect class="w" stroke-width="1" x="1021.0" y="587.0" width="8.5" height="6.0"/>
<path class="b"  d="M1029.9 587.8 L1095.8 588.0M1029.9 592.1 L1095.8 591.8"/>
<rect class="f"  x="1094.7" y="587.6" width="4.3" height="4.7"/>
<rect class="f"  x="1015.4" y="598.7" width="5.5" height="7.2"/>
<rect class="w" stroke-width="1" x="1021.0" y="599.3" width="8.5" height="6.0"/>
<path class="b"  d="M1029.9 600.1 L1095.8 600.4M1029.9 604.4 L1095.8 604.2"/>
<rect class="f"  x="1094.7" y="599.9" width="4.3" height="4.7"/>
<rect class="f"  x="1015.4" y="616.7" width="5.5" height="7.2"/>
<rect class="w" stroke-width="1" x="1021.0" y="617.4" width="8.5" height="6.0"/>
<path class="b"  d="M1029.9 618.2 L1095.8 618.4M1029.9 622.5 L1095.8 622.2"/>
<rect class="f"  x="1094.7" y="618.0" width="4.3" height="4.7"/>
<rect class="f"  x="1015.4" y="629.5" width="5.5" height="7.2"/>
<rect class="w" stroke-width="1" x="1021.0" y="630.1" width="8.5" height="6.0"/>
<path class="b"  d="M1029.9 631.0 L1095.8 631.2M1029.9 635.2 L1095.8 635.0"/>
<rect class="f"  x="1094.7" y="630.7" width="4.3" height="4.7"/>
<rect class="b"  x="1008.6" y="609.1" width="4.3" height="4.3"/>
<circle class="b"  cx="999.1" cy="642.6" r="2.0"/>
<path class="b"  d="M1040.5 600.1 L1040.5 594.8 L1066.0 594.8 L1066.0 600.1M1040.5 622.5 L1040.5 627.8 L1066.0 627.8 L1066.0 622.5M1034.1 604.4 L1034.1 618.2M1065.0 604.4 L1065.0 618.2"/>
<rect class="b"  x="1040.9" y="604.8" width="19.1" height="12.8"/>
<rect class="f"  x="1043.7" y="606.9" width="13.8" height="8.7"/>
<path class="w" stroke="none" d="M1045.8 608.6 L1055.4 608.6 L1055.4 614.0 L1045.8 614.0Z"/>
<rect class="f" opacity=".7" x="1048.0" y="609.9" width="5.3" height="3.0"/>
<path class="b"  d="M1033.1 559.8 L1038.5 559.8 L1039.6 564.4 L1045.4 564.4 L1046.5 559.8 L1051.1 559.8 L1051.1 579.9 L1033.1 579.9 L1033.1 559.8"/>
<path class="b"  d="M1033.1 661.8 L1038.5 661.8 L1039.6 657.1 L1045.4 657.1 L1046.5 661.8 L1051.1 661.8 L1051.1 641.6 L1033.1 641.6 L1033.1 661.8"/>
<path class="b"  d="M1118.1 559.8 L1123.2 559.8 L1124.2 564.4 L1129.7 564.4 L1130.7 559.8 L1135.1 559.8 L1135.1 581.0 L1118.1 581.0 L1118.1 559.8"/>
<path class="b"  d="M1118.1 662.8 L1123.2 662.8 L1124.2 658.2 L1129.7 658.2 L1130.7 662.8 L1135.1 662.8 L1135.1 642.6 L1118.1 642.6 L1118.1 662.8"/>
<rect class="f"  x="1125.5" y="603.3" width="9.6" height="15.9"/>
<path class="w" stroke="none" d="M1127.2 604.8 L1133.4 604.8 L1133.4 610.3 L1127.2 610.3ZM1127.2 612.5 L1133.4 612.5 L1133.4 617.6 L1127.2 617.6Z"/>
<path class="b"  d="M1021.4 569.3 L1025.6 567.2 L1029.5 576.3 L1025.2 578.5 L1021.4 569.3M1020.3 652.2 L1024.6 654.3 L1028.8 645.2 L1024.6 643.1 L1020.3 652.2"/>
<path class="b" stroke-width="1.2" d="M938.5 530.0 L993.8 565.1M938.5 690.0 L991.6 655.4"/>
<circle class="f"  cx="982.1" cy="533.2" r="3.2"/>
<path class="b"  d="M985.3 531.5 L991.6 531.5M985.3 534.5 L991.6 534.5M984.6 530.0 L984.6 538.5"/>
<circle class="f"  cx="983.1" cy="686.2" r="3.2"/>
<path class="b"  d="M986.3 684.5 L992.7 684.5M986.3 687.5 L992.7 687.5M985.7 683.0 L985.7 691.5"/>
<path class="b" stroke-width="1.2" d="M1179.1 572.5 C1178.7 576.1 1177.3 584.6 1176.9 593.8 C1176.6 603.0 1176.6 618.6 1176.9 627.8 C1177.3 637.0 1178.7 645.5 1179.1 649.0"/>
<path class="b"  d="M1159.5 584.2 L1223.3 584.2M1159.5 639.5 L1223.3 639.5M1159.5 584.2 L1157.4 579.9 L1170.1 575.7M1159.5 639.5 L1157.4 643.7 L1170.1 647.3M1160.6 582.1 L1160.6 564.0 L1142.5 564.0 L1142.5 581.0 L1138.7 583.1M1160.6 641.6 L1160.6 658.6 L1142.5 658.6 L1142.5 642.6 L1138.7 640.5"/>
<path class="h" stroke="#333" d="M1138.7 583.1 C1138.5 585.6 1137.6 590.9 1137.4 598.0 C1137.2 605.1 1137.2 618.6 1137.4 625.6 C1137.6 632.7 1138.5 638.0 1138.7 640.5"/>
<path class="b" stroke-width="1.5" d="M1170.1 570.8 C1171.9 570.2 1174.7 567.1 1180.8 567.2 C1186.8 567.3 1199.5 569.5 1206.3 571.4 C1213.0 573.4 1217.5 576.5 1221.1 578.9 C1224.8 581.3 1226.8 584.6 1227.9 585.7"/>
<path class="b" stroke-width="1.5" d="M1170.1 652.8 C1171.9 653.5 1174.7 656.6 1180.8 656.5 C1186.8 656.4 1199.5 654.2 1206.3 652.2 C1213.0 650.3 1217.5 647.1 1221.1 644.8 C1224.8 642.4 1226.8 639.1 1227.9 638.0"/>
<path class="b"  d="M1227.9 585.7 C1229.3 588.1 1234.5 595.6 1236.0 600.1 C1237.5 604.7 1237.1 608.6 1237.1 612.9 C1237.1 617.1 1237.5 621.5 1236.0 625.6 C1234.5 629.8 1229.3 635.9 1227.9 638.0"/>
<path class="b" stroke-width="1.2" d="M1173.3 555.5 C1178.1 556.6 1193.7 559.0 1202.0 561.9 C1210.3 564.7 1217.6 568.6 1223.3 572.5 C1228.9 576.4 1232.8 580.7 1236.0 585.3 C1239.3 589.9 1241.4 595.6 1242.8 600.1 C1244.2 604.7 1244.5 608.2 1244.5 612.5 C1244.5 616.7 1244.2 621.0 1242.8 625.6 C1241.4 630.3 1239.3 635.9 1236.0 640.5 C1232.8 645.1 1228.9 649.6 1223.3 653.3 C1217.6 657.0 1210.3 660.2 1202.0 662.8 C1193.7 665.5 1178.1 668.2 1173.3 669.2"/>
<path class="b" stroke-width="1" d="M1173.3 555.5 L1174.5 559.6M1177.8 556.5 L1178.6 560.7M1182.2 557.5 L1182.8 561.7M1186.7 558.5 L1186.9 562.7M1191.1 559.5 L1191.0 563.7M1195.6 560.4 L1195.0 564.7M1200.0 561.4 L1199.1 565.6M1204.2 563.0 L1203.0 567.1M1208.3 565.0 L1206.7 569.0M1212.4 567.1 L1210.5 570.9M1216.5 569.1 L1214.2 572.7M1220.5 571.1 L1218.0 574.5M1224.3 573.6 L1221.5 576.7M1227.5 576.8 L1224.4 579.7M1230.8 580.0 L1227.4 582.6M1234.0 583.2 L1230.4 585.5M1236.7 586.8 L1233.0 588.8M1238.6 590.9 L1234.7 592.6M1240.5 595.1 L1236.5 596.4M1242.4 599.2 L1238.3 600.2M1243.3 603.6 L1239.1 604.3M1243.9 608.1 L1239.7 608.5M1244.5 612.7 L1240.3 612.6M1243.9 617.2 L1239.7 616.8M1243.3 621.7 L1239.1 621.0M1242.6 626.2 L1238.5 625.1M1240.7 630.3 L1236.7 628.9M1238.8 634.4 L1234.9 632.7M1236.9 638.6 L1233.2 636.5M1234.3 642.2 L1230.8 639.9M1231.1 645.5 L1227.8 642.8M1227.9 648.7 L1224.8 645.8M1224.7 651.9 L1221.8 648.7M1220.9 654.3 L1218.3 651.0M1216.7 656.2 L1214.5 652.6M1212.6 658.1 L1210.7 654.3M1208.4 659.9 L1206.8 656.0M1204.3 661.8 L1203.0 657.8M1200.0 663.3 L1199.1 659.1M1195.6 664.3 L1195.0 660.1M1191.1 665.3 L1191.0 661.0M1186.7 666.2 L1186.9 662.0M1182.2 667.2 L1182.8 663.0M1177.8 668.2 L1178.6 664.1M1173.3 669.2 L1174.5 665.1"/>
<rect class="f"  x="1222.2" y="587.4" width="5.3" height="8.5"/>
<rect class="w" stroke-width="1" x="1227.5" y="588.2" width="9.6" height="6.8"/>
<rect class="f" opacity=".6" x="1230.1" y="589.5" width="3.8" height="4.3"/>
<path class="b"  d="M1237.7 589.5 L1301.9 589.7M1237.7 593.8 L1301.9 593.5"/>
<rect class="f"  x="1300.9" y="589.3" width="3.2" height="4.7"/>
<rect class="f"  x="1222.2" y="599.1" width="5.3" height="8.5"/>
<rect class="w" stroke-width="1" x="1227.5" y="599.9" width="9.6" height="6.8"/>
<rect class="f" opacity=".6" x="1230.1" y="601.2" width="3.8" height="4.3"/>
<path class="b"  d="M1237.7 601.2 L1301.9 601.4M1237.7 605.5 L1301.9 605.2"/>
<rect class="f"  x="1300.9" y="601.0" width="3.2" height="4.7"/>
<rect class="f"  x="1222.2" y="618.2" width="5.3" height="8.5"/>
<rect class="w" stroke-width="1" x="1227.5" y="619.1" width="9.6" height="6.8"/>
<rect class="f" opacity=".6" x="1230.1" y="620.3" width="3.8" height="4.3"/>
<path class="b"  d="M1237.7 620.3 L1301.9 620.5M1237.7 624.6 L1301.9 624.4"/>
<rect class="f"  x="1300.9" y="620.1" width="3.2" height="4.7"/>
<rect class="f"  x="1222.2" y="629.9" width="5.3" height="8.5"/>
<rect class="w" stroke-width="1" x="1227.5" y="630.7" width="9.6" height="6.8"/>
<rect class="f" opacity=".6" x="1230.1" y="632.0" width="3.8" height="4.3"/>
<path class="b"  d="M1237.7 632.0 L1301.9 632.2M1237.7 636.3 L1301.9 636.1"/>
<rect class="f"  x="1300.9" y="631.8" width="3.2" height="4.7"/>
<path class="l"  d="M1239.2 604.4 C1240.3 605.8 1245.6 610.1 1245.6 612.9 C1245.6 615.7 1240.3 620.0 1239.2 621.4"/>
<path class="b"  d="M1192.5 608.6 L1196.7 612.0 L1192.5 615.4"/>
<rect class="b"  x="1215.8" y="610.3" width="4.3" height="4.3"/>
<circle class="b"  cx="1207.3" cy="644.3" r="2.2"/>
<rect class="f"  x="1193.5" y="567.2" width="7.4" height="3.2"/>
<rect class="f" opacity=".8" x="1193.5" y="652.8" width="6.4" height="3.6"/>
<rect class="b"  x="1171.2" y="568.3" width="3.6" height="4.3"/>
<rect class="b"  x="1171.2" y="650.7" width="3.6" height="4.3"/>
<rect class="f"  x="1219.0" y="571.4" width="3.2" height="4.3"/>
<rect class="f"  x="1219.0" y="649.0" width="3.2" height="4.3"/>
<circle class="f"  cx="1145.1" cy="563.6" r="1.6"/>
<circle class="f"  cx="1145.1" cy="658.8" r="1.6"/>
<rect class="f"  x="1258.3" y="543.2" width="4.7" height="1.9"/>
<rect class="f"  x="1258.3" y="679.8" width="4.7" height="1.9"/>
<path class="b" stroke-width="1.2" d="M1293.2 545.2 L1372.9 612.1 L1293.2 678.6"/>
<path class="l" stroke="#333" stroke-dasharray="5 3" d="M1298.5 545.2 L1377.4 612.1 L1298.5 678.6"/>
<path class="l"  d="M1299.9 550.8 L1304.4 547.8M1299.9 673.1 L1304.4 676.1M1306.5 556.3 L1311.0 553.3M1306.5 667.6 L1311.0 670.6M1313.2 561.9 L1317.7 558.9M1313.2 662.0 L1317.7 665.0M1319.8 567.5 L1324.3 564.5M1319.8 656.5 L1324.3 659.5M1326.4 573.1 L1331.0 570.1M1326.4 650.9 L1331.0 653.9M1333.1 578.6 L1337.6 575.6M1333.1 645.4 L1337.6 648.4M1339.7 584.2 L1344.2 581.2M1339.7 639.8 L1344.2 642.8M1346.4 589.8 L1350.9 586.8M1346.4 634.3 L1350.9 637.3M1353.0 595.4 L1357.5 592.4M1353.0 628.7 L1357.5 631.7M1359.6 601.0 L1364.2 597.9M1359.6 623.2 L1364.2 626.2M1366.3 606.5 L1370.8 603.5M1366.3 617.7 L1370.8 620.7"/>
<rect class="b"  x="1327.1" y="591.1" width="9.0" height="6.8"/>
<rect class="b"  x="1341.0" y="612.9" width="9.4" height="7.5"/>
<path class="l"  d="M1328.9 592.9 L1334.2 595.9M1342.9 614.7 L1348.5 618.5"/>
<rect class="f" opacity=".85" x="1410.5" y="568.5" width="9.4" height="4.1"/>
<rect class="f" opacity=".85" x="1448.1" y="571.5" width="9.4" height="3.8"/>
<rect class="f" opacity=".85" x="1487.6" y="579.0" width="9.4" height="3.8"/>
<rect class="f" opacity=".85" x="1410.5" y="650.5" width="9.4" height="4.5"/>
<rect class="f" opacity=".85" x="1446.2" y="648.6" width="9.4" height="3.0"/>
<rect class="f" opacity=".85" x="1487.6" y="639.9" width="9.4" height="3.8"/>
<rect class="f" opacity=".85" x="1260.2" y="542.6" width="4.5" height="2.3"/>
<rect class="f" opacity=".85" x="1258.3" y="679.8" width="4.9" height="2.3"/>
<rect class="f" opacity=".85" x="1210.5" y="533.2" width="5.3" height="1.9"/>
<circle class="b" stroke-width="1.2" cx="1364.7" cy="569.6" r="2.4"/>
<circle class="b" stroke-width="1.2" cx="1371.4" cy="569.6" r="2.4"/>
<circle class="b" stroke-width="1.2" cx="1364.7" cy="653.8" r="2.4"/>
<circle class="b" stroke-width="1.2" cx="1371.4" cy="653.8" r="2.4"/>
<rect class="l"  x="1360.9" y="566.2" width="14.3" height="6.8"/>
<rect class="l"  x="1360.9" y="650.5" width="14.3" height="6.8"/>
<circle class="l"  cx="1391.7" cy="594.8" r="5.4"/>
<circle class="l"  cx="1391.7" cy="594.8" r="3.4"/>
<path class="b" stroke-width="1" d="M1384.2 588.0 L1406.0 588.0 L1406.0 601.6 L1384.2 601.6 L1384.2 588.0"/>
<rect class="l"  x="1406.0" y="591.1" width="10.2" height="8.3"/>
<circle class="l"  cx="1391.7" cy="619.6" r="5.4"/>
<circle class="l"  cx="1391.7" cy="619.6" r="3.4"/>
<path class="b" stroke-width="1" d="M1384.2 612.9 L1406.0 612.9 L1406.0 626.4 L1384.2 626.4 L1384.2 612.9"/>
<rect class="l"  x="1406.0" y="615.9" width="10.2" height="8.3"/>
<circle class="l"  cx="1391.7" cy="639.9" r="5.4"/>
<circle class="l"  cx="1391.7" cy="639.9" r="3.4"/>
<path class="b" stroke-width="1" d="M1384.2 633.2 L1406.0 633.2 L1406.0 646.7 L1384.2 646.7 L1384.2 633.2"/>
<rect class="l"  x="1406.0" y="636.2" width="10.2" height="8.3"/>
<circle class="b"  cx="1411.7" cy="607.2" r="2.6"/>
<circle class="f"  cx="1411.7" cy="607.2" r="1.2"/>
<path class="b" stroke-dasharray="2.5 5" stroke-width=".9" stroke="#222" d="M1418.0 592.2 L1508.3 597.8M1418.0 612.1 L1538.3 612.1M1418.0 641.1 L1508.3 624.9"/>
<path class="b" stroke-width=".9" d="M1430.1 589.9 L1432.3 592.2"/>
<path class="b" stroke-width=".9" d="M1445.1 595.2 L1447.4 597.4"/>
<path class="b" stroke-width=".9" d="M1462.0 589.9 L1464.3 592.2"/>
<path class="b" stroke-width=".9" d="M1430.1 611.0 L1432.3 613.2"/>
<path class="b" stroke-width=".9" d="M1445.1 614.7 L1447.4 617.0"/>
<path class="b" stroke-width=".9" d="M1462.0 610.2 L1464.3 612.5"/>
<path class="b" stroke-width=".9" d="M1432.0 633.5 L1434.2 635.8"/>
<path class="b" stroke-width=".9" d="M1447.0 636.9 L1449.2 639.2"/>
<path class="b" stroke-width=".9" d="M1462.8 629.4 L1465.0 631.7"/>
<path class="f"  d="M1510.2 594.8 L1519.5 594.8 L1527.1 597.8 L1526.3 602.3 L1519.5 603.8 L1510.2 602.3Z"/>
<path class="w" stroke="none" d="M1512.0 597.1 L1518.0 597.1 L1518.0 600.8 L1512.0 600.8Z"/>
<path class="b"  d="M1500.8 591.1 L1510.2 598.6 L1503.8 606.1"/>
<path class="f"  d="M1510.2 619.6 L1519.5 619.6 L1527.1 621.9 L1526.3 626.4 L1519.5 627.9 L1510.2 627.1Z"/>
<path class="w" stroke="none" d="M1512.0 621.5 L1518.0 621.5 L1518.0 625.3 L1512.0 625.3Z"/>
<path class="b"  d="M1500.8 616.6 L1510.2 623.4 L1503.8 630.9"/>
<path class="f"  d="M1545.1 608.3 L1555.3 607.2 L1562.8 609.8 L1560.9 614.7 L1553.4 616.6 L1545.1 615.9Z"/>
<path class="w" stroke="none" d="M1547.7 609.8 L1553.4 609.8 L1553.4 614.0 L1547.7 614.0Z"/>
<path class="b"  d="M1536.5 620.4 L1545.1 612.1 L1540.2 607.2"/>
<rect class="l"  x="1542.1" y="584.7" width="5.6" height="4.9"/>
<rect class="l"  x="1540.2" y="631.7" width="5.6" height="4.9"/>
<path class="b"  d="M1580.5 606.1 L1586.5 608.3 L1586.5 617.4 L1580.5 619.6 L1580.5 606.1"/>
<rect class="f"  x="1581.6" y="609.8" width="3.8" height="6.0"/>
<path class="h"  d="M1577.8 601.6 L1582.7 602.3M1575.9 621.1 L1581.6 620.4"/>
</g>
</svg>
</body></html>
